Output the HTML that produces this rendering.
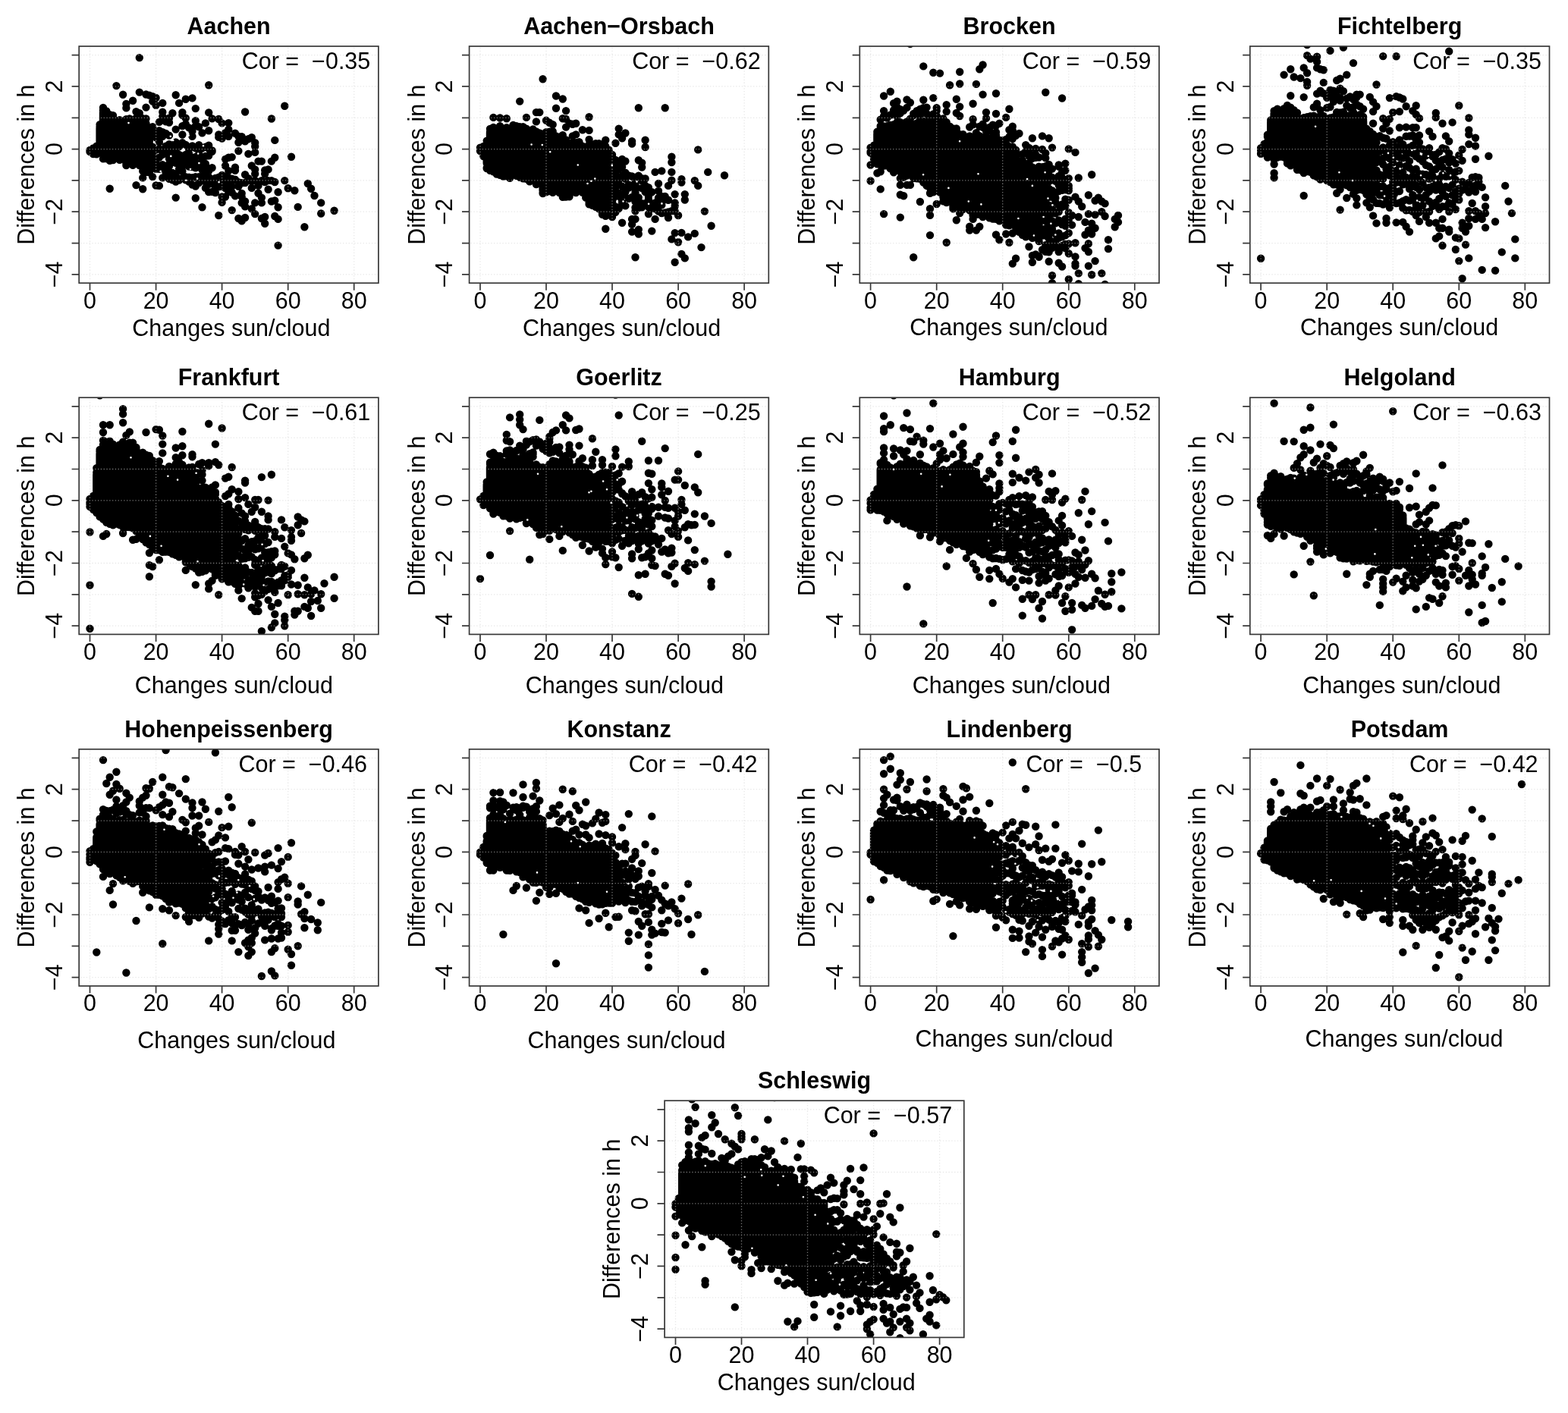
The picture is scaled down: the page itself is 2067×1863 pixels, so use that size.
<!DOCTYPE html>
<html lang="en">
<head>
<meta charset="utf-8">
<title>Differences in h vs. changes sun/cloud</title>
<style>
html,body{margin:0;padding:0;background:#fff;}
body{width:2067px;height:1863px;overflow:hidden;}
svg{display:block;font-family:"Liberation Sans",sans-serif;font-size:30.5px;fill:#000;text-anchor:middle;}
.gr{fill:none;stroke:#d3d3d3;stroke-opacity:.55;stroke-width:1.3;stroke-dasharray:1.3 2.5;}
.ho{fill:none;stroke:#fff;stroke-width:2.6;stroke-linecap:round;}
.bx{fill:none;stroke:#383838;stroke-width:1.7;}
.tk{fill:none;stroke:#383838;stroke-width:1.7;}
.pt{fill:none;stroke:#000;stroke-width:10.4;stroke-linecap:round;stroke-linejoin:round;}
.ti{font-weight:bold;}
.co{text-anchor:end;white-space:pre;}
</style>
</head>
<body>
<svg width="2067" height="1863" viewBox="0 0 2067 1863">
<rect width="2067" height="1863" fill="#fff"/>
<g>
<clipPath id="c_aachen"><rect x="104.2" y="61" width="394.7" height="312.2"/></clipPath>
<path class="pt" clip-path="url(#c_aachen)" d="M118.5 197.9h0M118.5 200h0M122.9 195.4h0M122.9 197.7h0M122.9 199.2h0M122.9 203.1h0M127.3 192.8h0M127.3 196.9h0M127.3 201.7h0M127.3 203.3h0M131.6 164.2h0M131.6 167h0M131.6 168.7V198.2M131.6 201.1V201.2M136 142h0M136 145.2V145.9M136 148.5V204.6M136 209.4h0M140.3 146.4V147.3M140.3 152.2V202.6M140.3 206.4h0M140.3 209h0M144.7 151.3h0M144.7 152.4V202.9M144.7 207.9h0M144.7 211.9h0M144.7 248.7h0M149 152.2h0M149 155h0M149 156.8V202.1M149 210.1V211M153.4 113.1h0M153.4 159.5h0M153.4 161.5h0M153.4 165.8V204.3M153.4 208.1V208.4M157.7 158.1V158.9M157.7 165.8V203.5M157.7 209.2h0M157.7 210.7h0M162.1 124.7h0M162.1 162.1V162.5M162.1 165.5V201.3M162.1 205h0M162.1 207.2h0M162.1 208.8h0M166.4 137h0M166.4 142.4h0M166.4 157.3h0M166.4 158.5h0M166.4 165.4V211.6M166.4 214.8h0M166.4 216.1h0M166.4 218.1h0M170.8 156.4h0M170.8 162.6V202.5M170.8 207.3h0M175.1 132.8h0M175.1 162h0M175.1 163.4V213M175.1 214.5h0M175.1 217.8h0M179.5 147.3h0M179.5 155.6h0M179.5 161.5h0M179.5 163V202.8M179.5 205.8h0M179.5 206.9h0M179.5 208h0M179.5 244.1h0M183.8 76.1h0M183.8 121.6h0M183.8 149.2h0M183.8 158.3h0M183.8 160.4V161.1M183.8 164.6V214.1M183.8 217.2V218.1M188.2 156.3h0M188.2 158.4h0M188.2 161.6h0M188.2 163.1V220.9M188.2 225.5h0M188.2 234.4h0M188.2 249.2h0M192.5 124.5h0M192.5 141.6h0M192.5 156.5V156.6M192.5 162.8V222.4M192.5 226.9h0M196.9 125.6h0M196.9 171.9h0M196.9 178.3h0M196.9 186.1h0M196.9 189.6h0M196.9 197.9h0M196.9 204.8h0M196.9 217.6h0M196.9 227.2h0M201.2 127.3h0M201.2 133.6h0M201.2 167.3h0M201.2 179.5h0M201.2 193.7h0M201.2 205.5h0M201.2 214h0M201.2 219.5h0M201.2 233.1h0M205.6 129h0M205.6 138.7h0M205.6 175.9h0M205.6 181.3h0M205.6 197.6h0M205.6 208.4h0M205.6 214.9h0M205.6 222.8h0M205.6 244.5h0M209.9 160.9h0M209.9 172.1h0M209.9 187.2h0M209.9 196.5h0M209.9 207.6h0M209.9 222.9h0M209.9 244.9h0M214.3 135.9h0M214.3 147.8h0M214.3 153.5h0M214.3 174.3h0M214.3 179.7h0M214.3 199h0M214.3 203.8h0M214.3 217.3h0M214.3 234.4h0M218.6 160.4h0M218.6 175.9h0M218.6 192.7h0M218.6 201.9h0M218.6 221h0M218.6 227.3h0M223 155.8h0M223 161.5h0M223 178.6h0M223 190.2h0M223 196.8h0M223 204.5h0M223 209.3h0M223 216.2h0M223 219h0M223 229.2h0M223 230.4h0M223 235.8h0M227.4 149.2h0M227.4 194.1h0M227.4 201.2h0M227.4 213.8h0M227.4 227.9h0M227.4 237.2h0M231.7 125.3h0M231.7 170.6h0M231.7 187.5h0M231.7 199h0M231.7 208.3h0M231.7 214.8h0M231.7 231h0M231.7 239.5h0M231.7 260.6h0M236.1 135.9h0M236.1 193.4h0M236.1 204h0M236.1 212.5h0M236.1 222.7h0M236.1 237.6h0M240.4 148.1h0M240.4 151.8h0M240.4 166.1h0M240.4 177.5h0M240.4 188.3h0M240.4 205.7h0M240.4 215.9h0M240.4 225.7h0M240.4 234.8h0M244.8 130.8h0M244.8 155.8h0M244.8 163.8h0M244.8 190.9h0M244.8 203.9h0M244.8 208.7h0M244.8 217.4h0M244.8 233.2h0M244.8 237.4h0M249.1 168.4h0M249.1 196.8h0M249.1 202.7h0M249.1 212.6h0M249.1 219.6h0M249.1 233.7h0M249.1 239.6h0M253.5 129.4h0M253.5 172.9h0M253.5 179.7h0M253.5 192.5h0M253.5 208.5h0M253.5 218.2h0M253.5 220.1h0M253.5 234.2h0M253.5 243.6h0M257.8 143.1h0M257.8 159.2h0M257.8 166.1h0M257.8 195.4h0M257.8 206.9h0M257.8 215.1h0M257.8 221.3h0M257.8 233.3h0M257.8 245.6h0M257.8 261.2h0M262.2 167.2h0M262.2 191.1h0M262.2 202.9h0M262.2 216.1h0M262.2 220.1h0M262.2 233.2h0M262.2 241h0M266.5 175.2h0M266.5 195.5h0M266.5 207.8h0M266.5 211.1h0M266.5 224h0M266.5 235.8h0M266.5 273.2h0M270.9 162.4h0M270.9 193.7h0M270.9 205.9h0M270.9 216V216.5M270.9 229.7h0M270.9 239.8h0M270.9 247.9h0M275.2 112.3h0M275.2 148.4h0M275.2 172.3h0M275.2 191.7h0M275.2 196h0M275.2 205.2h0M275.2 225.2h0M275.2 233.4h0M275.2 242.7h0M275.2 253.1h0M279.6 156.4h0M279.6 198.4h0M279.6 199.7h0M279.6 221.2h0M279.6 241.8h0M279.6 252.9h0M283.9 235h0M283.9 248h0M283.9 254.1h0M288.3 157h0M288.3 177.5h0M288.3 180.9h0M288.3 233.6h0M288.3 240h0M288.3 246.2h0M288.3 284h0M292.6 162.4h0M292.6 182.6h0M292.6 231V245.8M292.6 259.5h0M292.6 266.9h0M297 175.2h0M297 209.9h0M297 218.5h0M297 233.3V248.1M297 259.5h0M301.3 162.1h0M301.3 170.6h0M301.3 179.7h0M301.3 207.7h0M301.3 225.3h0M301.3 234.4V252.7M305.7 207.1h0M305.7 235.6h0M305.7 245.8h0M305.7 253.8h0M305.7 277.1h0M310 175.8h0M310 220.8h0M310 224.7h0M310 236.7h0M310 258.4h0M314.4 179.7h0M314.4 187.7h0M314.4 199.1h0M314.4 240.1h0M314.4 245.8h0M314.4 288h0M318.7 180.3h0M318.7 241.3h0M318.7 254.9h0M318.7 259.5h0M318.7 267.5h0M318.7 291.4h0M323.1 147.5V147.6M323.1 186.2h0M323.1 230.2h0M323.1 241h0M323.1 265.5h0M323.1 272.3h0M323.1 287h0M327.4 183.3h0M327.4 202.9h0M327.4 235.1h0M327.4 238.1h0M331.8 181.3h0M331.8 218.5h0M331.8 239h0M331.8 247.9h0M331.8 275.2h0M336.2 188.2h0M336.2 193.1h0M336.2 200.9h0M336.2 223.4h0M336.2 229.3h0M336.2 238.1h0M336.2 267.4h0M336.2 282.1h0M340.5 212.6h0M340.5 240h0M340.5 244.9h0M340.5 254.7h0M344.9 212.6h0M344.9 238.1h0M344.9 260.6h0M344.9 267.4h0M344.9 288h0M349.2 224.4h0M349.2 229.3h0M349.2 240h0M349.2 286h0M349.2 294.8h0M353.6 223.4h0M353.6 238.1h0M353.6 249.8h0M357.9 156.5h0M357.9 212.6h0M357.9 238.1h0M357.9 265.5h0M362.3 184.9h0M362.3 207.7h0M362.3 240h0M362.3 264.5h0M362.3 285h0M366.6 253.3h0M366.6 273.3h0M366.6 288.9h0M366.6 323.6h0M375.3 139.8h0M375.3 238.1h0M379.7 248.2h0M384 206.8h0M388.4 251.2h0M392.7 272.9h0M401.4 299.3h0M405.8 242h0M410.1 248.8h0M414.5 258h0M423.2 267.4h0M423.2 281.5h0M440.6 277.8h0"/>
<path class="ho" d="M225.3 205.9h0M268 192.3h0M261.2 202.5h0M262.4 215.1h0M251 223h0M260.1 235.6h0M245.3 237.8h0M288.6 240.1h0M169.5 162.1h0M211.7 225.9h0M224.8 179.7h0M228.2 184.9h0M248.7 178.6h0M260.1 174h0"/>
<path class="gr" d="M118.5 63V372.2M205.6 63V372.2M292.6 63V372.2M379.7 63V372.2M466.7 63V372.2M106.2 361.9H497.9M106.2 320.6H497.9M106.2 279.2H497.9M106.2 237.9H497.9M106.2 196.6H497.9M106.2 155.3H497.9M106.2 113.9H497.9M106.2 72.6H497.9"/>
<rect class="bx" x="104.2" y="61" width="394.7" height="312.2"/>
<path class="tk" d="M118.5 373.2v9.6M205.6 373.2v9.6M292.6 373.2v9.6M379.7 373.2v9.6M466.7 373.2v9.6M104.2 361.9h-9.6M104.2 320.6h-9.6M104.2 279.2h-9.6M104.2 237.9h-9.6M104.2 196.6h-9.6M104.2 155.3h-9.6M104.2 113.9h-9.6M104.2 72.6h-9.6"/>
<text x="118.5" y="406.6">0</text>
<text x="205.6" y="406.6">20</text>
<text x="292.6" y="406.6">40</text>
<text x="379.7" y="406.6">60</text>
<text x="466.7" y="406.6">80</text>
<text transform="translate(81.9 361.9) rotate(-90)">−4</text>
<text transform="translate(81.9 279.2) rotate(-90)">−2</text>
<text transform="translate(81.9 196.6) rotate(-90)">0</text>
<text transform="translate(81.9 113.9) rotate(-90)">2</text>
<text x="304.9" y="442.6">Changes sun/cloud</text>
<text transform="translate(45.2 217.1) rotate(-90)">Differences in h</text>
<text class="ti" x="301.6" y="44.7">Aachen</text>
<text class="co" x="488.3" y="90.8" xml:space="preserve">Cor =  −0.35</text>
</g>
<g>
<clipPath id="c_orsbach"><rect x="618.6" y="61" width="394.7" height="312.2"/></clipPath>
<path class="pt" clip-path="url(#c_orsbach)" d="M633 194.8h0M633 199h0M637.3 193h0M637.3 195.9h0M637.3 198.5V200M637.3 204.6h0M637.3 206.1h0M641.7 185.8h0M641.7 192.6V215.3M641.7 221.2V222.1M646 169.9V170.1M646 174h0M646 175V218M646 224.5V224.8M650.4 154.9h0M650.4 168h0M650.4 169.5h0M650.4 174.4V220.8M650.4 223.5V223.6M650.4 226.3h0M654.7 169.9h0M654.7 171.4V171.6M654.7 172.6V222.5M654.7 229.6h0M659.1 155.5h0M659.1 166.2h0M659.1 168.2h0M659.1 173.2V223.6M659.1 230.4V230.8M663.4 173.1h0M663.4 175.5h0M663.4 177V223.5M663.4 228.7h0M663.4 230.5h0M663.4 232.6h0M667.8 156.3h0M667.8 168.1h0M667.8 172.3h0M667.8 174.6V226.9M667.8 232.2h0M672.1 169.8h0M672.1 173V227.3M672.1 232.8h0M672.1 234.8h0M676.5 164.9h0M676.5 166.4h0M676.5 171.5V228.3M676.5 229.4V229.9M680.8 166.3h0M680.8 171.1V172.1M680.8 173.7V227.5M680.8 229.9h0M680.8 231V231.8M685.2 133.6h0M685.2 167.3h0M685.2 169.6h0M685.2 172.2V226.3M685.2 231.2h0M685.2 233.7h0M689.5 167.3V167.7M689.5 172.7V228.3M689.5 230.2h0M689.5 234.3h0M689.5 235.4h0M693.9 154.9h0M693.9 169.8h0M693.9 172h0M693.9 174V231.9M693.9 235.9h0M698.2 172.8V173.6M698.2 175.4V229.8M698.2 234.9h0M698.2 239.4h0M702.6 170.5h0M702.6 173.9h0M702.6 175.2V231.6M702.6 233.8h0M702.6 235.4h0M706.9 148.1h0M706.9 160.4h0M706.9 173.4h0M706.9 175.4h0M706.9 176.9V234.9M706.9 236.8h0M706.9 242.1V243.1M711.3 148.1h0M711.3 175.4h0M711.3 177.5h0M711.3 180.7V236.4M711.3 241V241.8M715.6 104.2h0M715.6 176.6V176.8M715.6 181.5V251.2M715.6 253.9V255M720 158.8h0M720 174.1V175M720 178h0M720 179.4V249.3M720 251.7h0M720 253.2h0M724.3 161.8h0M724.3 173.8h0M724.3 176.3h0M724.3 180.8V248.1M724.3 252.1h0M728.7 164.3h0M728.7 173.2h0M728.7 174.8V175.1M728.7 179.7V245.9M728.7 248.7h0M728.7 253.3V253.7M733 126.5h0M733 142.8h0M733 179.4h0M733 181.5V244.4M733 247.8h0M733 250.5h0M737.4 180.8V180.9M737.4 184.4V248.6M737.4 250h0M737.4 253.5V254M741.8 130.5h0M741.8 156.3h0M741.8 178.2h0M741.8 181.6h0M741.8 183.9V251.5M741.8 257.3h0M741.8 259.8h0M746.1 146.1h0M746.1 156.9h0M746.1 167.6h0M746.1 184.5h0M746.1 190.2V253.9M746.1 257.9h0M746.1 259.6h0M750.5 162.7h0M750.5 191.5h0M750.5 194h0M750.5 195.5V251.1M750.5 258.4V259.2M754.8 163.7h0M754.8 179.4h0M754.8 187.8h0M754.8 193h0M754.8 194.8V250.6M754.8 252.9h0M759.2 162.7h0M759.2 177.4h0M759.2 188.1V189.1M759.2 193.9V246.3M759.2 251.3h0M759.2 252.8h0M759.2 254.1h0M763.5 187.2V187.4M763.5 195.8V244M763.5 246.5h0M763.5 249h0M767.9 171.2h0M767.9 192.6h0M767.9 196.4h0M767.9 197.8V248.7M767.9 250.9h0M767.9 253.9h0M772.2 194.8h0M772.2 197.4h0M772.2 198.9V254.3M772.2 257.1h0M772.2 260.5V260.6M776.6 154.3h0M776.6 171.9h0M776.6 183.9h0M776.6 190.5h0M776.6 191.8V192.3M776.6 198.5V260.4M776.6 267h0M776.6 269.3h0M780.9 196.4h0M780.9 197.4V265.7M780.9 267.4h0M780.9 270.9h0M785.3 189.1h0M785.3 194.4h0M785.3 197.7V266.7M785.3 271.2h0M785.3 272.9h0M789.6 189.3h0M789.6 195.5V272.4M789.6 274.8V275.2M794 190.5h0M794 196.2h0M794 198.2h0M794 199.4V275.5M794 280.8h0M794 282.8h0M798.3 184.7h0M798.3 193h0M798.3 195.1h0M798.3 198.7h0M798.3 201.5V280.1M798.3 281.4h0M798.3 284.9h0M798.3 301.7h0M802.7 197.7h0M802.7 204.2h0M802.7 205.9V278.4M802.7 279.4h0M802.7 281.7h0M807 203.9h0M807 205.8h0M807 207.7h0M807 209.7V278.3M807 282.7h0M807 286.1h0M811.4 188.8h0M811.4 210.9h0M811.4 225.4h0M811.4 230.5h0M811.4 235.7h0M811.4 246.9h0M811.4 253.6h0M811.4 259.5h0M811.4 272.5h0M811.4 279.8h0M815.7 169.6h0M815.7 177.4h0M815.7 215.7h0M815.7 222.7h0M815.7 237h0M815.7 242.4h0M815.7 254.9h0M815.7 260.6h0M815.7 275.1h0M820.1 182.3h0M820.1 209.9h0M820.1 220h0M820.1 231.6h0M820.1 245.7h0M820.1 258h0M820.1 267.3h0M820.1 293.8h0M824.4 175.5h0M824.4 212.5h0M824.4 227.8h0M824.4 235.7h0M824.4 250.4h0M824.4 253h0M824.4 271.4h0M828.8 231.4h0M828.8 243.5h0M828.8 247.6h0M828.8 261.9h0M833.1 186.2h0M833.1 189.5h0M833.1 232.5h0M833.1 245.6h0M833.1 260h0M833.1 288.9h0M833.1 295.8h0M833.1 305.6h0M837.5 233.9h0M837.5 236.9h0M837.5 241.3h0M837.5 243.2h0M837.5 250.2h0M837.5 253.7h0M837.5 265.9h0M837.5 273.8h0M837.5 278.2h0M837.5 288.9h0M837.5 339.2h0M841.8 142.2h0M841.8 211.3h0M841.8 231.8h0M841.8 260.5h0M841.8 273.8h0M841.8 302.6h0M841.8 308.5h0M846.2 214.6h0M846.2 220.5h0M846.2 235.1h0M846.2 238.2h0M846.2 248h0M846.2 268.3h0M846.2 273.3h0M850.6 184.7h0M850.6 194h0M850.6 235.5h0M850.6 244.7h0M850.6 253.1h0M850.6 268.2h0M854.9 247.3h0M854.9 258.7h0M854.9 263h0M854.9 272.8h0M854.9 282.1h0M859.3 253.3h0M859.3 268.6h0M859.3 274.8h0M859.3 304.6h0M863.6 226.9h0M863.6 267.4h0M863.6 275.4h0M863.6 288.9h0M868 242h0M868 251.8h0M868 260.9h0M868 266.5h0M868 278.5h0M872.3 225.4h0M872.3 259h0M872.3 270.4h0M872.3 281.1h0M876.7 142.2h0M876.7 259h0M876.7 263h0M876.7 280.4h0M881 244.9h0M881 263.8h0M881 279.5h0M881 287h0M885.4 206.8h0M885.4 214h0M885.4 226.9h0M885.4 237.7h0M885.4 278.1h0M885.4 315.4h0M889.7 256.1h0M889.7 267.4h0M889.7 271.8h0M889.7 278.2h0M889.7 307.1h0M889.7 345.7h0M894.1 284h0M894.1 319.3h0M898.4 236.1h0M898.4 240.6h0M898.4 306.9h0M898.4 334.9h0M902.8 256.1h0M902.8 263.5h0M902.8 340.4h0M907.1 312.4h0M915.8 238.1h0M915.8 307.9h0M920.2 197.4h0M920.2 244.9h0M924.5 326.1h0M928.9 278.6h0M933.2 226.9h0M937.6 297.7h0M955 231.2h0"/>
<path class="ho" d="M774.5 242h0M779.4 238.7h0M784.3 235.5h0M813.7 264.9h0M821.5 265.5h0M839.5 239.4h0M761.8 217.5h0M725.2 200.3h0M806.8 217.9h0M700.6 190.5h0M714.8 191.1h0M855.1 268.8h0M872.4 268.4h0"/>
<path class="gr" d="M633 63V372.2M720 63V372.2M807 63V372.2M894.1 63V372.2M981.1 63V372.2M620.6 361.9H1012.3M620.6 320.6H1012.3M620.6 279.2H1012.3M620.6 237.9H1012.3M620.6 196.6H1012.3M620.6 155.3H1012.3M620.6 113.9H1012.3M620.6 72.6H1012.3"/>
<rect class="bx" x="618.6" y="61" width="394.7" height="312.2"/>
<path class="tk" d="M633 373.2v9.6M720 373.2v9.6M807 373.2v9.6M894.1 373.2v9.6M981.1 373.2v9.6M618.6 361.9h-9.6M618.6 320.6h-9.6M618.6 279.2h-9.6M618.6 237.9h-9.6M618.6 196.6h-9.6M618.6 155.3h-9.6M618.6 113.9h-9.6M618.6 72.6h-9.6"/>
<text x="633" y="406.6">0</text>
<text x="720" y="406.6">20</text>
<text x="807" y="406.6">40</text>
<text x="894.1" y="406.6">60</text>
<text x="981.1" y="406.6">80</text>
<text transform="translate(596.3 361.9) rotate(-90)">−4</text>
<text transform="translate(596.3 279.2) rotate(-90)">−2</text>
<text transform="translate(596.3 196.6) rotate(-90)">0</text>
<text transform="translate(596.3 113.9) rotate(-90)">2</text>
<text x="819.6" y="442.6">Changes sun/cloud</text>
<text transform="translate(559.6 217.1) rotate(-90)">Differences in h</text>
<text class="ti" x="816" y="44.7">Aachen−Orsbach</text>
<text class="co" x="1002.7" y="90.8" xml:space="preserve">Cor =  −0.62</text>
</g>
<g>
<clipPath id="c_brocken"><rect x="1133.3" y="61" width="394.7" height="312.2"/></clipPath>
<path class="pt" clip-path="url(#c_brocken)" d="M1147.6 194.8h0M1147.6 199.9h0M1147.6 201.4V201.6M1147.6 217.5h0M1147.6 238.5h0M1152 191.6h0M1152 193.3h0M1152 197.9V207.8M1152 209.8h0M1152 213h0M1156.4 173.6h0M1156.4 174.8h0M1156.4 176.4V210.4M1156.4 216.3h0M1156.4 228.3h0M1160.7 157.8h0M1160.7 166.3h0M1160.7 169.5h0M1160.7 173h0M1160.7 176.2V210.5M1160.7 213.6h0M1160.7 217.5h0M1160.7 226.3h0M1160.7 249.4h0M1165.1 126.5h0M1165.1 146.1h0M1165.1 153h0M1165.1 154.6h0M1165.1 166.4h0M1165.1 169.1h0M1165.1 173.2V210.1M1165.1 211.8h0M1165.1 217.9V218.6M1165.1 282.1h0M1169.4 155.6h0M1169.4 166.1h0M1169.4 169.1h0M1169.4 171.8V211.3M1169.4 218.3h0M1173.8 120.7h0M1173.8 151.5h0M1173.8 164.9V165.4M1173.8 170.9V211.7M1173.8 219.1h0M1173.8 222.4h0M1178.1 136.3h0M1178.1 145.3h0M1178.1 151.1h0M1178.1 164.1h0M1178.1 168.8V211.6M1178.1 215.9h0M1178.1 220V220.3M1178.1 227.3h0M1182.5 133.8h0M1182.5 141.2h0M1182.5 144.9h0M1182.5 153h0M1182.5 161.3h0M1182.5 163.2h0M1182.5 164.4h0M1182.5 170.9V212.3M1182.5 214.5h0M1182.5 219.3h0M1186.8 144.2h0M1186.8 149.2h0M1186.8 161.1h0M1186.8 162.7h0M1186.8 167.9h0M1186.8 169.5V219M1186.8 221.5h0M1186.8 224.5h0M1186.8 226.6h0M1186.8 235.1h0M1186.8 243.9h0M1186.8 256.7h0M1186.8 286.6h0M1191.2 145.8h0M1191.2 162.4h0M1191.2 165.5h0M1191.2 167.7V225.6M1191.2 226.8V227.4M1191.2 233.9h0M1191.2 258.2h0M1195.5 131.4h0M1195.5 141.9h0M1195.5 160.5h0M1195.5 162.3h0M1195.5 166.3V226.1M1195.5 229.1h0M1195.5 231.6h0M1195.5 243.9h0M1199.9 57.9h0M1199.9 135.3h0M1199.9 156.7h0M1199.9 163h0M1199.9 165.4V165.8M1199.9 169.6V229M1199.9 230.5h0M1199.9 243.9h0M1204.2 150h0M1204.2 152.1h0M1204.2 164.2h0M1204.2 166.1h0M1204.2 167.1h0M1204.2 168.7V227.4M1204.2 228.9h0M1204.2 235h0M1204.2 339.2h0M1208.6 146.1h0M1208.6 150.4h0M1208.6 162.5h0M1208.6 163.7h0M1208.6 165.3h0M1208.6 169.9V229.6M1208.6 233.6V234.1M1208.6 235.3h0M1212.9 143.9h0M1212.9 157.2h0M1212.9 160.7h0M1212.9 164h0M1212.9 167.2V230.4M1212.9 231.8h0M1212.9 234.1h0M1212.9 235.7h0M1212.9 266h0M1217.3 87.4h0M1217.3 131.8h0M1217.3 142.2h0M1217.3 149h0M1217.3 161h0M1217.3 164.8h0M1217.3 166.8h0M1217.3 168V232M1217.3 234.2V234.7M1217.3 240.6h0M1221.6 141.6h0M1221.6 149.9h0M1221.6 159h0M1221.6 163.9h0M1221.6 165.3V238.5M1221.6 239.8h0M1221.6 243.7h0M1221.6 244.9h0M1226 154.5h0M1226 159h0M1226 164.5V240.5M1226 242.4h0M1226 248.1h0M1226 254.7h0M1226 275.2h0M1226 283.7h0M1226 310.1h0M1230.3 95.8h0M1230.3 129.1h0M1230.3 150.5h0M1230.3 159.7h0M1230.3 161.2h0M1230.3 164.5V243.7M1230.3 248.5h0M1230.3 253.2h0M1234.7 142.2h0M1234.7 146.1h0M1234.7 152.6h0M1234.7 156.1h0M1234.7 160.5h0M1234.7 161.8h0M1234.7 163.9V244.5M1234.7 250.4V251.2M1234.7 269h0M1239 96.6h0M1239 157h0M1239 158.2h0M1239 162.9V245.1M1239 249.1h0M1239 251.2h0M1239 253.6h0M1243.4 156.4h0M1243.4 158.3h0M1243.4 160.8h0M1243.4 165.6V257M1243.4 259.9h0M1243.4 265.4h0M1247.7 138.3h0M1247.7 147.1h0M1247.7 161.1h0M1247.7 163.6V259.2M1247.7 261.8h0M1247.7 264.7h0M1247.7 267.1h0M1247.7 319.7h0M1252.1 112.3h0M1252.1 166.8h0M1252.1 168V263.2M1256.4 169.5h0M1256.4 172.9V173.1M1256.4 174.8V265.3M1256.4 271h0M1256.4 272.8h0M1256.4 275.2h0M1260.8 130.8h0M1260.8 149h0M1260.8 169.5h0M1260.8 170.9h0M1260.8 173.8h0M1260.8 178V265.9M1260.8 270.3h0M1260.8 271.3h0M1260.8 290.3h0M1265.2 94.8h0M1265.2 110.5h0M1265.2 140.6h0M1265.2 153h0M1265.2 177.2h0M1265.2 179.2h0M1265.2 182.3V269.8M1265.2 271.7h0M1265.2 274.2h0M1265.2 281.1h0M1269.5 177.2V177.6M1269.5 180.2h0M1269.5 183.8V269.9M1269.5 273.7h0M1269.5 276.1h0M1273.9 182.5h0M1273.9 184.1V272.5M1278.2 167.5h0M1278.2 179.4V179.7M1278.2 184.3h0M1278.2 186.9V273.9M1278.2 276.4V277.4M1278.2 298.7h0M1278.2 303.6h0M1282.6 136.7h0M1282.6 157.3h0M1282.6 164.4h0M1282.6 181.4h0M1282.6 182.7V182.9M1282.6 186.3V274.3M1282.6 279.7h0M1282.6 283h0M1282.6 284h0M1282.6 288.9h0M1286.9 110.9h0M1286.9 175.1h0M1286.9 181.5h0M1286.9 183.4h0M1286.9 188.1V276.3M1286.9 282.6V282.9M1286.9 303.6h0M1291.3 91.3h0M1291.3 166.7h0M1291.3 179.2h0M1291.3 183.7h0M1291.3 186.6h0M1291.3 189.4V277M1291.3 281.3h0M1291.3 282.8h0M1291.3 298.7h0M1295.6 85.5h0M1295.6 124.6h0M1295.6 163.7h0M1295.6 167.9h0M1295.6 181.5h0M1295.6 186.8h0M1295.6 189.3V279.1M1295.6 280.5h0M1295.6 284.8h0M1295.6 286.1h0M1300 148.1h0M1300 155.9h0M1300 173.1h0M1300 180.6h0M1300 185.9h0M1300 187.3h0M1300 191.7V280.9M1300 282.5h0M1304.3 167.9h0M1304.3 172.1h0M1304.3 186h0M1304.3 190.4h0M1304.3 191.7V281.6M1304.3 286.1h0M1304.3 287.2h0M1308.7 164.7h0M1308.7 180h0M1308.7 187.2h0M1308.7 188.9h0M1308.7 191.8V280.7M1308.7 286h0M1308.7 288.5h0M1313 123.2h0M1313 150h0M1313 165.7h0M1313 174.3h0M1313 178.3h0M1313 185.7h0M1313 187.2h0M1313 192.7V283.5M1313 285.3h0M1313 288.5V288.8M1313 309.5h0M1317.4 162.7h0M1317.4 184.6h0M1317.4 186.5h0M1317.4 192.6V285.1M1317.4 287.3h0M1317.4 291V291.3M1317.4 316.3h0M1321.7 185.2h0M1321.7 188.4h0M1321.7 191.6V288.7M1321.7 289.8V290.3M1326.1 154.9h0M1326.1 183.9h0M1326.1 188.6h0M1326.1 190.7h0M1326.1 192.1h0M1326.1 196.5V289.9M1326.1 293.2h0M1326.1 295h0M1326.1 296.5h0M1326.1 308.5h0M1330.4 143.8h0M1330.4 171.3h0M1330.4 180.4h0M1330.4 193.1h0M1330.4 196V291.3M1330.4 295.7h0M1330.4 297.2h0M1330.4 319.7h0M1334.8 166.7h0M1334.8 171.9h0M1334.8 176.4h0M1334.8 183.1h0M1334.8 193.4h0M1334.8 195.6h0M1334.8 201.2V295.6M1334.8 307.5h0M1334.8 347.6h0M1339.1 178.7h0M1339.1 197.7V198.2M1339.1 203.9V295.9M1339.1 298.9h0M1339.1 300h0M1339.1 340.8h0M1343.5 176h0M1343.5 213.3h0M1343.5 214.5h0M1343.5 217.8V298.3M1343.5 302.2h0M1343.5 305.7h0M1347.8 203.2h0M1347.8 211.5h0M1347.8 213.9h0M1347.8 220.2V303.1M1347.8 306.2h0M1347.8 309.7h0M1352.2 191.1h0M1352.2 199.4h0M1352.2 215.9h0M1352.2 220.5h0M1352.2 224V303.8M1352.2 306.1h0M1352.2 310.6h0M1352.2 312.3h0M1356.5 195h0M1356.5 201.3h0M1356.5 205.8h0M1356.5 214.9h0M1356.5 217.9V218.4M1356.5 224.2V306M1356.5 307.1h0M1356.5 308.9h0M1356.5 311.1h0M1356.5 325.2h0M1360.9 182.3h0M1360.9 208.8h0M1360.9 220.4h0M1360.9 223.6V306.5M1360.9 312.9h0M1360.9 313.9h0M1360.9 336.9h0M1360.9 345.7h0M1365.2 196h0M1365.2 203.8h0M1365.2 207.7h0M1365.2 222.6V305.2M1365.2 309.8V310.8M1365.2 313.1h0M1365.2 335.4h0M1369.6 207.5h0M1369.6 219.7h0M1369.6 223.1h0M1369.6 226.4V297.3M1369.6 301.4h0M1369.6 305h0M1369.6 314h0M1369.6 318.1h0M1369.6 338V338.8M1374 179.4h0M1374 197h0M1374 220.2h0M1374 221.3V222.1M1374 229.8V289.5M1374 309.7V310.6M1374 329.1h0M1378.3 121.7h0M1378.3 201.9h0M1378.3 208.4h0M1378.3 219.2h0M1378.3 222.5h0M1378.3 224.5h0M1378.3 229V285.8M1378.3 288.4h0M1378.3 291.3h0M1378.3 301.5h0M1378.3 310.6h0M1378.3 323.2h0M1378.3 331.8h0M1382.7 182.3h0M1382.7 216.9h0M1382.7 225.9h0M1382.7 239.2h0M1382.7 248.7h0M1382.7 250h0M1382.7 259.8h0M1382.7 270.6h0M1382.7 277.6h0M1382.7 283h0M1382.7 295.3h0M1382.7 308.7h0M1382.7 314.6h0M1382.7 332.2h0M1382.7 344.7h0M1387 194.6h0M1387 222.6h0M1387 234h0M1387 237.3h0M1387 251.2h0M1387 259.7h0M1387 275.9h0M1387 281.3h0M1387 291.4h0M1387 302h0M1387 318.9h0M1387 326.9h0M1387 363.3h0M1387 373.1h0M1391.4 235.4h0M1391.4 238.9h0M1391.4 254.9h0M1391.4 261h0M1391.4 266.6h0M1391.4 281.4h0M1391.4 294.2h0M1391.4 308.5h0M1391.4 317.7h0M1391.4 325.1h0M1395.7 217.4h0M1395.7 219.5h0M1395.7 232.3h0M1395.7 244.1h0M1395.7 252h0M1395.7 270.6h0M1395.7 279.3h0M1395.7 290.5h0M1395.7 307.4h0M1395.7 313.8h0M1395.7 332.1h0M1395.7 346.7h0M1400.1 129.5h0M1400.1 226.9h0M1400.1 234.5h0M1400.1 242h0M1400.1 250.9h0M1400.1 269.5h0M1400.1 272.7h0M1400.1 295.1h0M1400.1 296.1h0M1400.1 312.2h0M1400.1 324h0M1400.1 351.5h0M1404.4 215.6h0M1404.4 224.7h0M1404.4 238h0M1404.4 250.3h0M1404.4 262.6h0M1404.4 271.5h0M1404.4 288.8h0M1404.4 297.7h0M1404.4 310.4h0M1404.4 322h0M1404.4 327.4h0M1408.8 196.4h0M1408.8 235.1h0M1408.8 244.9h0M1408.8 248.3h0M1408.8 251.2h0M1408.8 263.7h0M1408.8 280.2h0M1408.8 289.8h0M1408.8 307.3h0M1408.8 321.5h0M1408.8 334.3h0M1408.8 368.2h0M1413.1 284h0M1413.1 296.6h0M1417.5 200.9h0M1417.5 259.6h0M1417.5 320.2h0M1417.5 338.4h0M1417.5 347.6h0M1417.5 350.6h0M1421.8 234.5h0M1421.8 265.5h0M1421.8 286h0M1421.8 360.4h0M1421.8 374.1h0M1426.2 272.3h0M1430.5 292.9h0M1430.5 309.5h0M1430.5 327.1h0M1434.9 257.2h0M1434.9 282.1h0M1434.9 303.6h0M1434.9 321.2h0M1434.9 332h0M1434.9 350.6h0M1439.2 230.2h0M1439.2 294.8h0M1439.2 308.5h0M1439.2 362.3h0M1443.6 264.5h0M1443.6 283.1h0M1443.6 300.7h0M1443.6 344.1h0M1447.9 260.6h0M1452.3 265.5h0M1452.3 279.2h0M1452.3 360.4h0M1456.6 268.4h0M1456.6 285h0M1456.6 375h0M1461 316.3h0M1461 328.1h0M1469.7 288.9h0M1469.7 299.3h0M1474 284h0M1474 292.9h0"/>
<path class="ho" d="M1342.4 288h0M1375.6 286h0M1385.4 294.8h0M1391.3 309.5h0M1362.9 310.5h0M1250.4 247.9h0M1276.8 265.5h0M1293.4 269.4h0M1289.5 229.3h0M1265.1 186.2h0M1217.1 230.2h0M1360.9 244.9h0M1354.1 236.1h0M1381.5 261.5h0M1387.4 270.4h0M1377.6 227.3h0"/>
<path class="gr" d="M1147.6 63V372.2M1234.7 63V372.2M1321.7 63V372.2M1408.8 63V372.2M1495.8 63V372.2M1135.3 361.9H1527M1135.3 320.6H1527M1135.3 279.2H1527M1135.3 237.9H1527M1135.3 196.6H1527M1135.3 155.3H1527M1135.3 113.9H1527M1135.3 72.6H1527"/>
<rect class="bx" x="1133.3" y="61" width="394.7" height="312.2"/>
<path class="tk" d="M1147.6 373.2v9.6M1234.7 373.2v9.6M1321.7 373.2v9.6M1408.8 373.2v9.6M1495.8 373.2v9.6M1133.3 361.9h-9.6M1133.3 320.6h-9.6M1133.3 279.2h-9.6M1133.3 237.9h-9.6M1133.3 196.6h-9.6M1133.3 155.3h-9.6M1133.3 113.9h-9.6M1133.3 72.6h-9.6"/>
<text x="1147.6" y="406.6">0</text>
<text x="1234.7" y="406.6">20</text>
<text x="1321.7" y="406.6">40</text>
<text x="1408.8" y="406.6">60</text>
<text x="1495.8" y="406.6">80</text>
<text transform="translate(1111 361.9) rotate(-90)">−4</text>
<text transform="translate(1111 279.2) rotate(-90)">−2</text>
<text transform="translate(1111 196.6) rotate(-90)">0</text>
<text transform="translate(1111 113.9) rotate(-90)">2</text>
<text x="1329.8" y="442.2">Changes sun/cloud</text>
<text transform="translate(1074.3 217.1) rotate(-90)">Differences in h</text>
<text class="ti" x="1330.6" y="44.7">Brocken</text>
<text class="co" x="1517.4" y="90.8" xml:space="preserve">Cor =  −0.59</text>
</g>
<g>
<clipPath id="c_fichtel"><rect x="1647.8" y="61" width="394.7" height="312.2"/></clipPath>
<path class="pt" clip-path="url(#c_fichtel)" d="M1662.1 195.3h0M1662.1 197.9h0M1662.1 202.1V202.9M1662.1 340.8h0M1666.5 190V190.4M1666.5 197.4h0M1666.5 198.8h0M1666.5 199.9h0M1666.5 201.5h0M1670.9 177.8h0M1670.9 180.2h0M1670.9 186.7V198.6M1670.9 203.5V204.2M1670.9 207.5h0M1675.2 158.5h0M1675.2 160.8V201.6M1675.2 206h0M1679.6 146.3h0M1679.6 149.6V202.8M1679.6 208.7h0M1679.6 210.2h0M1679.6 216.5h0M1679.6 228.3h0M1679.6 234.2h0M1683.9 143.8h0M1683.9 145.1h0M1683.9 153.3V204M1683.9 207.4V207.6M1688.3 149.3h0M1688.3 152.7V204.2M1688.3 206.1V206.6M1692.6 98.6h0M1692.6 143.1h0M1692.6 145.5h0M1692.6 149.1V206.1M1692.6 207.4h0M1697 139h0M1697 140.2h0M1697 143.3h0M1697 145.2V209M1697 212.8h0M1697 215.4h0M1701.3 91.3h0M1701.3 126.2h0M1701.3 141.8h0M1701.3 143.8h0M1701.3 146.8V213.1M1701.3 215.5h0M1701.3 218.4h0M1705.7 101.5h0M1705.7 145.1h0M1705.7 149.3h0M1705.7 150.9V214.9M1705.7 216.7V217M1710 148.8h0M1710 153.8h0M1710 155V218.9M1710 220.1h0M1710 223.7h0M1714.4 103.1h0M1714.4 156.5h0M1714.4 159h0M1714.4 160.5V223M1714.4 224.1h0M1718.7 89.4h0M1718.7 128.1h0M1718.7 155.1V155.2M1718.7 160.8V219.6M1718.7 226.3h0M1718.7 228h0M1718.7 258h0M1723.1 59h0M1723.1 73.1h0M1723.1 96.2h0M1723.1 108h0M1723.1 112.8h0M1723.1 154.3h0M1723.1 158.2h0M1723.1 161.8V219.3M1723.1 220.6h0M1723.1 226h0M1727.4 77.6h0M1727.4 153.1h0M1727.4 155.4V155.8M1727.4 158.4h0M1727.4 162.6V219.8M1727.4 223.9h0M1727.4 226.5V226.7M1731.8 141.4h0M1731.8 152.8h0M1731.8 159.8V225.5M1731.8 228.2h0M1731.8 231V231.4M1736.1 74.7h0M1736.1 81.5h0M1736.1 89.4h0M1736.1 123.6h0M1736.1 136.7h0M1736.1 140.4h0M1736.1 155.6h0M1736.1 159.8V225M1736.1 227.8h0M1736.1 233.2h0M1740.5 91.3h0M1740.5 119.7h0M1740.5 122.4h0M1740.5 145.2h0M1740.5 152.5h0M1740.5 160.4V228.9M1740.5 230.1V230.6M1740.5 236.5h0M1744.8 92.3h0M1744.8 108.9h0M1744.8 123.2h0M1744.8 153V153.2M1744.8 155.6h0M1744.8 158h0M1744.8 162.3V230.3M1744.8 234.3h0M1749.2 128.9h0M1749.2 142.3h0M1749.2 158.1h0M1749.2 159.5h0M1749.2 161.7V230.5M1749.2 236.4h0M1749.2 238h0M1753.5 66.9h0M1753.5 118.7h0M1753.5 127.1h0M1753.5 141h0M1753.5 155.5h0M1753.5 162.3h0M1753.5 163.4h0M1753.5 165.3V232.6M1753.5 236.4V236.8M1753.5 240h0M1757.9 119.7h0M1757.9 128.3h0M1757.9 134h0M1757.9 154.4h0M1757.9 165.5V165.6M1757.9 169.1V235.7M1757.9 240.5h0M1757.9 243.2h0M1762.2 106h0M1762.2 121.2h0M1762.2 148h0M1762.2 161.3h0M1762.2 163.1h0M1762.2 165.7V236.5M1762.2 243.2h0M1762.2 254.7h0M1766.6 103.7h0M1766.6 116.8h0M1766.6 129.3h0M1766.6 132.5h0M1766.6 148.4h0M1766.6 156.8h0M1766.6 157.8V157.9M1766.6 164.3V234.4M1766.6 240.7V241.5M1766.6 249.8h0M1766.6 276.6h0M1770.9 62.6h0M1770.9 120.3h0M1770.9 147.7h0M1770.9 154.4V154.5M1770.9 159.5h0M1770.9 160.6V235.8M1770.9 238.5h0M1770.9 240.3h0M1770.9 242.3h0M1775.3 98.6h0M1775.3 129.9h0M1775.3 139.1h0M1775.3 153.9h0M1775.3 155.1h0M1775.3 160.1V237.2M1775.3 240.7h0M1775.3 242.6h0M1775.3 244.3h0M1775.3 261h0M1779.7 127.5h0M1779.7 142h0M1779.7 151.7V152.3M1779.7 157.9V240.5M1779.7 242.6h0M1779.7 245.8h0M1779.7 247.1h0M1784 83.1h0M1784 131h0M1784 141.1h0M1784 147.9h0M1784 155.8h0M1784 157.2V241.8M1784 242.8h0M1784 245.2h0M1784 255.7h0M1788.4 124.6h0M1788.4 128.3h0M1788.4 137.6h0M1788.4 154.8h0M1788.4 155.8h0M1788.4 158.8V242.5M1788.4 247.1h0M1788.4 250.7h0M1788.4 261.5h0M1788.4 270.4h0M1792.7 124.6h0M1792.7 140.2h0M1792.7 151.1h0M1792.7 157.5h0M1792.7 158.6V244.3M1792.7 247.6h0M1792.7 248.7h0M1792.7 249.7h0M1797.1 143.7h0M1797.1 153.9h0M1797.1 155.3h0M1797.1 158h0M1797.1 159.8V247.1M1797.1 248.3h0M1797.1 250.3V250.9M1801.4 169.8h0M1801.4 171.5h0M1801.4 177.8V249.4M1801.4 255.5V256.3M1801.4 267.4h0M1805.8 127.9h0M1805.8 173.2h0M1805.8 177.8V178.7M1805.8 179.9V253M1805.8 258h0M1805.8 261.2V262.1M1805.8 273.3h0M1810.1 134.4h0M1810.1 147.1h0M1810.1 162.7h0M1810.1 176.9h0M1810.1 186.8h0M1810.1 193.2h0M1810.1 200.9h0M1810.1 210.7h0M1810.1 215.5h0M1810.1 224.4h0M1810.1 233.3h0M1810.1 247.8h0M1810.1 254h0M1810.1 263.2h0M1810.1 284.4h0M1814.5 111.5h0M1814.5 140.2h0M1814.5 182.5h0M1814.5 187.7h0M1814.5 195.4h0M1814.5 207.3h0M1814.5 214h0M1814.5 224.5h0M1814.5 234.3h0M1814.5 242.9h0M1814.5 251h0M1814.5 253.6h0M1814.5 267.8h0M1814.5 294.4h0M1818.8 179.3h0M1818.8 198.9V199.6M1818.8 212.6h0M1818.8 230.2h0M1818.8 234.9h0M1818.8 245.9h0M1818.8 257.3h0M1818.8 268.1h0M1823.2 74.1h0M1823.2 156.3h0M1823.2 169.6h0M1823.2 181.7h0M1823.2 194.4h0M1823.2 208.9h0M1823.2 216.8h0M1823.2 231.3h0M1823.2 235.7h0M1823.2 245.8h0M1823.2 257.3h0M1823.2 269.5h0M1827.5 162.7h0M1827.5 182.7h0M1827.5 201h0M1827.5 206.8h0M1827.5 223.2h0M1827.5 230h0M1827.5 250.5h0M1827.5 260.3h0M1827.5 267.1h0M1827.5 288h0M1827.5 293.8h0M1831.9 129.1h0M1831.9 156.9h0M1831.9 172.5h0M1831.9 191.5h0M1831.9 209.1h0M1831.9 219.8h0M1831.9 231.4h0M1831.9 247.6h0M1831.9 252.4h0M1831.9 273.8h0M1836.2 148.1h0M1836.2 187.1h0M1836.2 199.1h0M1836.2 200.9h0M1836.2 202.6h0M1836.2 214.4h0M1836.2 225.7h0M1836.2 231.7h0M1836.2 240h0M1836.2 243.3V244.1M1836.2 248.3h0M1836.2 260.7h0M1836.2 266.3h0M1840.6 74.3h0M1840.6 127.1h0M1840.6 193.4h0M1840.6 199.6h0M1840.6 206h0M1840.6 225h0M1840.6 232.4h0M1840.6 240.5h0M1840.6 254.3h0M1840.6 268.1h0M1840.6 293.4h0M1844.9 128.5h0M1844.9 147.1h0M1844.9 168.2h0M1844.9 184.4h0M1844.9 198.3h0M1844.9 207.4h0M1844.9 217.6h0M1844.9 235.8h0M1844.9 240h0M1844.9 252h0M1844.9 267.5h0M1849.3 130.5h0M1849.3 190.3h0M1849.3 195.9h0M1849.3 208.4h0M1849.3 227.1h0M1849.3 236.7h0M1849.3 243.3h0M1849.3 265.3h0M1849.3 274.4h0M1849.3 292.9h0M1853.6 140.2h0M1853.6 167.6h0M1853.6 179.7h0M1853.6 200.6h0M1853.6 207.8h0M1853.6 218.9h0M1853.6 234h0M1853.6 242.5h0M1853.6 263.3h0M1853.6 277.2h0M1853.6 298.7h0M1858 179.5h0M1858 194.2h0M1858 212.4h0M1858 221.2h0M1858 241.3h0M1858 249h0M1858 264.5h0M1858 277h0M1858 305.6h0M1862.3 146.1h0M1862.3 168.2h0M1862.3 178.4h0M1862.3 179.6h0M1862.3 191.7h0M1862.3 202.4h0M1862.3 224.5h0M1862.3 232.5h0M1862.3 239.5h0M1862.3 256.9h0M1862.3 263.5h0M1862.3 279h0M1866.7 139.3h0M1866.7 151h0M1866.7 168.2h0M1866.7 184.2h0M1866.7 202.6h0M1866.7 206.3h0M1866.7 222.8h0M1866.7 244.2h0M1866.7 246.7h0M1866.7 269.6h0M1866.7 273.7h0M1866.7 284h0M1871 155.9h0M1871 178.4h0M1871 187.6h0M1871 195.8h0M1871 209.2h0M1871 229.3h0M1871 234.8h0M1871 250h0M1871 260h0M1871 279.7h0M1871 291.9h0M1875.4 196.5h0M1875.4 209.9h0M1875.4 212.7h0M1875.4 229.7h0M1875.4 240.9h0M1875.4 261.2h0M1875.4 270.7h0M1879.8 200.1h0M1879.8 205.1h0M1879.8 217.8h0M1879.8 230.3h0M1879.8 247.4h0M1879.8 256.9h0M1879.8 279.8h0M1879.8 286h0M1884.1 173.1h0M1884.1 195.1h0M1884.1 203.2h0M1884.1 219.5h0M1884.1 235.7h0M1884.1 247.1h0M1884.1 252.6h0M1884.1 265.5h0M1884.1 279h0M1884.1 293.8h0M1888.5 180h0M1888.5 204.1h0M1888.5 206.3h0M1888.5 225.2h0M1888.5 232.2h0M1888.5 245.6h0M1888.5 268.7h0M1888.5 271.9h0M1892.8 149h0M1892.8 154.9h0M1892.8 203.8h0M1892.8 211.5h0M1892.8 223h0M1892.8 237h0M1892.8 250.5h0M1892.8 266.9h0M1892.8 270.3h0M1892.8 293.8h0M1892.8 314.4h0M1897.2 200.4h0M1897.2 216.4h0M1897.2 235.8h0M1897.2 243.2h0M1897.2 262h0M1897.2 275.7h0M1897.2 300.7h0M1897.2 311.4h0M1901.5 162.7h0M1901.5 195.3h0M1901.5 211h0M1901.5 220.5h0M1901.5 230.2h0M1901.5 248.1h0M1901.5 253.2h0M1901.5 272.3h0M1901.5 288.9h0M1901.5 300.7h0M1901.5 323.8h0M1905.9 179.4h0M1905.9 196.5h0M1905.9 209.5h0M1905.9 232.8h0M1905.9 246h0M1905.9 258.8h0M1905.9 272.1h0M1910.2 67.8h0M1910.2 186.2h0M1910.2 202.1h0M1910.2 214.3h0M1910.2 223.9h0M1910.2 232.3h0M1910.2 247.9h0M1910.2 267.5h0M1910.2 279.1h0M1910.2 302.6h0M1910.2 305.6h0M1914.6 161.4h0M1914.6 210.3h0M1914.6 227.9h0M1914.6 229.7h0M1914.6 243.6h0M1914.6 257.3h0M1914.6 269.5h0M1918.9 215.6h0M1918.9 226.5h0M1918.9 236.9h0M1918.9 253h0M1918.9 262.6h0M1918.9 276h0M1918.9 313.4h0M1918.9 329h0M1923.3 139.3h0M1923.3 204.8h0M1923.3 225.1h0M1923.3 248.8h0M1923.3 255.4h0M1923.3 263.5h0M1923.3 314.4h0M1923.3 344.1h0M1927.6 197h0M1927.6 211.7h0M1927.6 239.6h0M1927.6 250.6h0M1927.6 293.8h0M1927.6 300.7h0M1927.6 367.2h0M1932 242.2h0M1932 249.4h0M1932 305.6h0M1932 322.6h0M1936.3 155.5h0M1936.3 171.5h0M1936.3 177.4h0M1936.3 190.1h0M1936.3 240.9h0M1936.3 253.5h0M1936.3 278.2h0M1936.3 288h0M1936.3 297.7h0M1936.3 340.4h0M1940.7 234h0M1940.7 248.8V249.7M1940.7 268h0M1945 181.7h0M1945 192.5h0M1945 209.7h0M1945 233.2h0M1945 244.5h0M1945 252.7h0M1945 278.2h0M1945 288.9h0M1949.4 234.2h0M1949.4 239.6h0M1949.4 244.8h0M1949.4 281.1h0M1953.7 246.9h0M1953.7 288.9h0M1953.7 355.9h0M1958.1 260.2h0M1958.1 272.3h0M1958.1 281.1h0M1958.1 300.1h0M1962.4 205.8h0M1971.1 292.3h0M1971.1 356.8h0M1979.8 332.4h0M1984.2 244.9h0M1988.5 265.5h0M1992.9 281.1h0M1997.3 315.4h0M1997.3 340.4h0"/>
<path class="ho" d="M1845.6 222.4h0M1873 231.2h0M1902.4 228.3h0M1861.3 198h0M1882.8 205.8h0M1843.7 258.6h0M1868.1 264.5h0M1825.1 258.6h0M1830 201.9h0M1912.1 231.2h0M1892.6 238.1h0M1783 238.1h0M1734.1 166.7h0M1765.4 227.3h0M1836.8 207.7h0"/>
<path class="gr" d="M1662.1 63V372.2M1749.2 63V372.2M1836.2 63V372.2M1923.3 63V372.2M2010.3 63V372.2M1649.8 361.9H2041.5M1649.8 320.6H2041.5M1649.8 279.2H2041.5M1649.8 237.9H2041.5M1649.8 196.6H2041.5M1649.8 155.3H2041.5M1649.8 113.9H2041.5M1649.8 72.6H2041.5"/>
<rect class="bx" x="1647.8" y="61" width="394.7" height="312.2"/>
<path class="tk" d="M1662.1 373.2v9.6M1749.2 373.2v9.6M1836.2 373.2v9.6M1923.3 373.2v9.6M2010.3 373.2v9.6M1647.8 361.9h-9.6M1647.8 320.6h-9.6M1647.8 279.2h-9.6M1647.8 237.9h-9.6M1647.8 196.6h-9.6M1647.8 155.3h-9.6M1647.8 113.9h-9.6M1647.8 72.6h-9.6"/>
<text x="1662.1" y="406.6">0</text>
<text x="1749.2" y="406.6">20</text>
<text x="1836.2" y="406.6">40</text>
<text x="1923.3" y="406.6">60</text>
<text x="2010.3" y="406.6">80</text>
<text transform="translate(1625.5 361.9) rotate(-90)">−4</text>
<text transform="translate(1625.5 279.2) rotate(-90)">−2</text>
<text transform="translate(1625.5 196.6) rotate(-90)">0</text>
<text transform="translate(1625.5 113.9) rotate(-90)">2</text>
<text x="1844.6" y="442.2">Changes sun/cloud</text>
<text transform="translate(1588.8 217.1) rotate(-90)">Differences in h</text>
<text class="ti" x="1845.1" y="44.7">Fichtelberg</text>
<text class="co" x="2031.9" y="90.8" xml:space="preserve">Cor =  −0.35</text>
</g>
<g>
<clipPath id="c_frankfurt"><rect x="104.2" y="524.2" width="394.7" height="312.2"/></clipPath>
<path class="pt" clip-path="url(#c_frankfurt)" d="M118.5 658h0M118.5 662.5h0M118.5 664.4h0M118.5 668.1h0M118.5 701.5h0M118.5 771.5h0M118.5 828.8h0M122.9 653.9h0M122.9 657.2h0M122.9 659.2V668.2M122.9 671.8h0M127.3 617.3h0M127.3 622.9h0M127.3 625.7V668.5M127.3 671.4h0M127.3 672.6h0M127.3 676.1h0M131.6 521.3h0M131.6 592.9h0M131.6 594.8V595.5M131.6 598.1V673.1M131.6 677.6h0M131.6 681.4h0M136 560.2h0M136 570h0M136 580.7h0M136 586.4h0M136 591V591.6M136 593V676.5M136 683.8V684.6M136 706.9h0M140.3 582.7h0M140.3 586.9h0M140.3 592.3V681.2M140.3 684h0M140.3 688.8h0M140.3 704h0M144.7 560.2h0M144.7 581.7V582.4M144.7 589.7V683.3M144.7 687.3V687.7M144.7 690.7h0M149 585.8h0M149 586.9h0M149 592.7V685.5M149 692.3h0M153.4 591.6h0M153.4 593h0M153.4 595.8V686.4M153.4 688.5V688.8M153.4 690.6h0M157.7 586.5h0M157.7 588.3h0M157.7 590.3h0M157.7 594.3V686.7M157.7 689.9h0M157.7 692h0M162.1 539.3h0M162.1 545.9h0M162.1 557.3h0M162.1 582.7h0M162.1 584.9h0M162.1 586.4h0M162.1 592.9V687.1M162.1 692.6h0M162.1 694.9h0M162.1 703h0M166.4 573.9h0M166.4 586.8h0M166.4 588.8h0M166.4 593.4V687.7M166.4 689.8h0M166.4 695.1h0M170.8 569.4h0M170.8 583.7V583.9M170.8 588.2V588.8M170.8 593V688.8M170.8 691.5h0M170.8 695.1h0M175.1 583.7h0M175.1 589.9V590.6M175.1 591.8h0M175.1 593.9V692.6M175.1 695.6V696.4M175.1 711.8h0M179.5 589.9h0M179.5 592.2V592.5M179.5 598.8V694.1M179.5 700V700.3M179.5 710.9h0M183.8 597.6h0M183.8 602V697.1M183.8 703.5V704M183.8 705.5h0M188.2 596.8h0M188.2 601.2h0M188.2 604.2h0M188.2 606.2V701.8M188.2 706.5h0M188.2 710h0M188.2 711.1h0M192.5 570h0M192.5 599.7V601.1M192.5 606.9V705.5M192.5 709.9h0M192.5 712.5h0M192.5 715.2h0M196.9 601V601.3M196.9 602.9h0M196.9 607.9h0M196.9 609.5V711.8M196.9 713h0M196.9 714.5h0M196.9 718.1h0M196.9 729h0M196.9 745.1h0M196.9 760.2h0M201.2 607.1h0M201.2 613.7V614M201.2 617.1V717.7M201.2 719.3h0M201.2 722h0M201.2 747h0M205.6 566.1h0M205.6 614.9h0M205.6 617.4h0M205.6 618.9h0M205.6 623.8V723.4M205.6 725h0M209.9 566.7h0M209.9 608.1h0M209.9 615.9h0M209.9 621.3h0M209.9 624.1V725.3M209.9 738.2h0M214.3 574.5h0M214.3 585.6h0M214.3 597.4h0M214.3 617.9h0M214.3 620.7V621M214.3 623.9V723.7M214.3 725h0M214.3 727.3V727.8M218.6 619.7h0M218.6 620.9h0M218.6 622.7V724.5M218.6 726h0M218.6 727.5h0M223 615V616M223 619.4h0M223 623.2V723.7M223 727.5V727.7M227.4 616.4h0M227.4 620.2h0M227.4 622.7V721.1M227.4 727.7h0M227.4 730.2h0M231.7 590.5h0M231.7 603.2h0M231.7 611.6h0M231.7 614h0M231.7 618.4h0M231.7 620.6V723.3M231.7 730.1h0M231.7 731.9h0M236.1 609.1h0M236.1 615.5V616.7M236.1 618.4V727.6M236.1 729.8h0M236.1 734.3h0M240.4 569h0M240.4 588.2h0M240.4 600.3h0M240.4 612.8h0M240.4 614.3V614.4M240.4 619.2V728M240.4 729.1V730.1M244.8 618.2h0M244.8 621.2h0M244.8 622.7V729.4M244.8 734.3h0M244.8 735.8h0M244.8 737.9h0M244.8 741.2h0M244.8 751.9h0M249.1 616.4h0M249.1 617.9h0M249.1 623.2h0M249.1 624.9V734.4M249.1 740h0M249.1 742.9h0M253.5 599.3h0M253.5 602.3h0M253.5 616h0M253.5 621.6h0M253.5 622.9h0M253.5 625h0M253.5 626.2V739.1M253.5 743.2h0M253.5 744.3h0M253.5 747h0M257.8 622.6h0M257.8 624.3h0M257.8 629.2V743M257.8 745.4h0M257.8 749.6h0M257.8 771.1h0M262.2 612h0M262.2 647.1h0M262.2 648.1h0M262.2 649.6V746.7M262.2 752.2h0M262.2 753.7h0M262.2 754.9h0M266.5 610.1h0M266.5 619.9h0M266.5 625.7h0M266.5 633.6h0M266.5 643.2h0M266.5 647h0M266.5 649.1V746.4M266.5 747.4V747.7M266.5 753.8h0M270.9 642.6h0M270.9 644.7h0M270.9 645.8h0M270.9 650.7V746.5M270.9 749.1h0M270.9 751.2h0M270.9 752.4h0M275.2 558.8h0M275.2 610.1h0M275.2 614.4h0M275.2 646h0M275.2 648.5h0M275.2 651.7V745.4M275.2 746.9V747.3M275.2 769.5h0M275.2 776.4h0M279.6 642.4h0M279.6 646.2V646.4M279.6 654.2V747.6M279.6 749.7V750.3M279.6 765.6h0M283.9 585.6h0M283.9 609.1h0M283.9 639.4h0M283.9 649h0M283.9 651.8h0M283.9 657.4V751.6M283.9 753.9h0M283.9 756.3h0M283.9 758.7h0M288.3 613h0M288.3 662.2h0M288.3 663.8h0M288.3 665.3V754.7M288.3 755.9h0M288.3 758.3h0M288.3 784.2h0M292.6 564.5h0M292.6 667h0M292.6 671.2h0M292.6 673V756.7M292.6 761.7h0M292.6 763.2h0M297 630.6h0M297 654.1h0M297 669.1h0M297 671.1h0M297 676.3V757.1M297 759.7h0M297 762.2h0M301.3 628.7h0M301.3 651.2h0M301.3 664.9h0M301.3 669.4h0M301.3 676.2h0M301.3 678.4V760.2M301.3 763.1h0M301.3 764.8h0M301.3 767.4h0M305.7 616h0M305.7 645.3h0M305.7 674.5h0M305.7 675.9h0M305.7 681.2V758.2M305.7 765h0M305.7 766.6h0M310 679.8h0M310 689.6h0M310 697.1h0M310 700.9h0M310 709h0M310 717.3h0M310 725.8h0M310 733.4h0M310 744.9h0M310 750.6h0M310 756.2h0M310 769.9h0M314.4 648.2h0M314.4 658h0M314.4 669.8h0M314.4 686.8h0M314.4 697.5h0M314.4 703.3h0M314.4 710.3h0M314.4 721.4h0M314.4 732.6h0M314.4 745.8h0M314.4 755h0M314.4 762.2h0M314.4 772.7h0M314.4 778.4h0M318.7 676.6h0M318.7 688.8h0M318.7 696h0M318.7 713h0M318.7 723.5h0M318.7 734.6h0M318.7 736.7h0M318.7 752.6h0M318.7 759.3h0M318.7 768.8h0M318.7 789.1h0M323.1 633.6h0M323.1 636.5h0M323.1 656.1h0M323.1 680.5h0M323.1 687.2h0M323.1 698h0M323.1 710.3h0M323.1 724.9V725.8M323.1 736.3h0M323.1 748.4h0M323.1 758.6h0M323.1 769.6h0M327.4 664.9h0M327.4 692.7h0M327.4 699.2h0M327.4 718.9h0M327.4 730.3h0M327.4 734.8h0M327.4 754.4h0M327.4 766.8h0M327.4 775.3h0M331.8 674.7h0M331.8 695.8h0M331.8 714.1h0M331.8 722.5h0M331.8 734.1h0M331.8 754.9h0M331.8 763.7h0M331.8 770.8h0M331.8 800.9h0M336.2 659h0M336.2 668.8h0M336.2 687.9h0M336.2 690h0M336.2 699.8h0M336.2 713.2V713.6M336.2 721.8h0M336.2 724.3h0M336.2 738h0M336.2 743.3h0M336.2 744.9h0M336.2 756.2h0M336.2 763.1h0M336.2 769.5h0M336.2 773.7h0M336.2 782.1h0M336.2 787.2h0M336.2 805.7h0M340.5 659h0M340.5 695.3h0M340.5 708.7h0M340.5 711.7h0M340.5 723.4h0M340.5 741.6h0M340.5 750.8h0M340.5 754.8h0M340.5 767.7h0M340.5 785.3h0M340.5 796h0M340.5 805.7h0M344.9 629.1h0M344.9 674.7h0M344.9 697.1h0M344.9 701h0M344.9 708.7h0M344.9 719.5h0M344.9 735.5h0M344.9 740.5h0M344.9 754.9h0M344.9 759.5h0M344.9 775h0M344.9 783.7h0M344.9 832.2h0M349.2 697.1h0M349.2 706.1h0M349.2 717.1h0M349.2 728.3h0M349.2 739.2h0M349.2 749.7h0M349.2 755.2h0M349.2 767.4h0M349.2 779.6h0M353.6 659.6h0M353.6 680.5h0M353.6 685.4h0M353.6 697.5h0M353.6 715h0M353.6 728.3h0M353.6 732.4h0M353.6 740.5h0M353.6 754.2h0M353.6 766.5h0M353.6 776.9h0M353.6 791.1h0M357.9 625.7h0M357.9 727.2h0M357.9 735.2h0M357.9 745.9h0M357.9 756.4h0M357.9 767h0M357.9 775.3h0M357.9 799.9h0M357.9 827.3h0M362.3 701.1h0M362.3 707.9h0M362.3 726.4h0M362.3 731.3h0M362.3 749.8h0M362.3 752.2h0M362.3 769.9h0M362.3 780.9h0M362.3 809.7h0M362.3 821.4h0M366.6 748.4h0M366.6 750h0M366.6 767.8h0M366.6 772.4h0M366.6 795h0M371 685.4h0M371 709.9h0M371 744.9h0M371 750.1h0M371 765.1h0M371 772.4h0M375.3 695.2h0M375.3 720.6h0M375.3 746.7h0M375.3 759.3h0M375.3 765.2h0M375.3 812.6h0M375.3 817.5h0M375.3 825.3h0M379.7 729.4h0M379.7 758.2h0M379.7 760.9h0M379.7 784.2h0M384 699.1h0M384 707.9h0M384 712.8h0M384 731.4h0M384 751.9h0M384 770.5h0M388.4 737.3h0M388.4 805.7h0M388.4 810.6h0M392.7 681.5h0M392.7 692.3h0M392.7 771.5h0M392.7 783.2h0M392.7 805.7h0M397.1 685.4h0M397.1 703h0M401.4 687.4h0M401.4 736.3h0M401.4 761.7h0M401.4 784.2h0M401.4 799.9h0M405.8 731.8h0M405.8 774.4h0M405.8 801.8h0M410.1 783.2h0M410.1 793h0M410.1 812h0M414.5 778.4h0M418.8 792h0M423.2 783.2h0M423.2 801.8h0M427.5 769.2h0M440.6 760.7h0M440.6 788.7h0"/>
<path class="ho" d="M172.5 603.2h0M221.4 627.7h0M234.1 632.6h0M197.9 706.9h0M345.6 717.7h0M364.2 745.1h0M321.2 770.5h0M347.6 771.5h0M260.5 740.2h0M346.6 739.2h0M212.6 719.7h0M258.6 623.8h0"/>
<path class="gr" d="M118.5 526.2V835.4M205.6 526.2V835.4M292.6 526.2V835.4M379.7 526.2V835.4M466.7 526.2V835.4M106.2 825.1H497.9M106.2 783.8H497.9M106.2 742.5H497.9M106.2 701.1H497.9M106.2 659.8H497.9M106.2 618.5H497.9M106.2 577.1H497.9M106.2 535.8H497.9"/>
<rect class="bx" x="104.2" y="524.2" width="394.7" height="312.2"/>
<path class="tk" d="M118.5 836.4v9.6M205.6 836.4v9.6M292.6 836.4v9.6M379.7 836.4v9.6M466.7 836.4v9.6M104.2 825.1h-9.6M104.2 783.8h-9.6M104.2 742.5h-9.6M104.2 701.1h-9.6M104.2 659.8h-9.6M104.2 618.5h-9.6M104.2 577.1h-9.6M104.2 535.8h-9.6"/>
<text x="118.5" y="869.8">0</text>
<text x="205.6" y="869.8">20</text>
<text x="292.6" y="869.8">40</text>
<text x="379.7" y="869.8">60</text>
<text x="466.7" y="869.8">80</text>
<text transform="translate(81.9 825.1) rotate(-90)">−4</text>
<text transform="translate(81.9 742.5) rotate(-90)">−2</text>
<text transform="translate(81.9 659.8) rotate(-90)">0</text>
<text transform="translate(81.9 577.1) rotate(-90)">2</text>
<text x="308.4" y="914">Changes sun/cloud</text>
<text transform="translate(45.2 680.3) rotate(-90)">Differences in h</text>
<text class="ti" x="301.6" y="507.9">Frankfurt</text>
<text class="co" x="488.3" y="554" xml:space="preserve">Cor =  −0.61</text>
</g>
<g>
<clipPath id="c_goerlitz"><rect x="618.6" y="524.2" width="394.7" height="312.2"/></clipPath>
<path class="pt" clip-path="url(#c_goerlitz)" d="M633 658.4h0M633 763.1h0M637.3 654V654.2M637.3 655.8V658.5M637.3 666h0M641.7 635.5h0M641.7 638.7V638.8M641.7 640.1V662.4M641.7 664.2h0M646 598.7h0M646 609.8h0M646 611.8h0M646 616.3V664.8M646 666.7h0M646 668.7h0M646 670.2h0M646 732h0M650.4 596.8h0M650.4 601.2h0M650.4 608.6V671.2M650.4 674.1h0M650.4 676.1h0M650.4 677.6h0M654.7 600.8V601.5M654.7 609.7V670.9M654.7 674.8h0M659.1 601.2h0M659.1 605.6h0M659.1 609.3V670.7M659.1 672.9h0M659.1 675.9h0M663.4 608.9h0M663.4 610.3V672.3M663.4 678.1h0M663.4 680.3h0M667.8 572.9h0M667.8 580.7h0M667.8 594.4h0M667.8 598.9h0M667.8 608.9h0M667.8 612V674.4M667.8 678.9h0M667.8 680.4h0M672.1 550.4h0M672.1 582.3h0M672.1 593.5h0M672.1 605.2h0M672.1 607.8h0M672.1 609.2h0M672.1 614.5V677.9M672.1 681.9h0M672.1 683.5h0M672.1 700.1h0M676.5 598.3h0M676.5 604.8h0M676.5 613.3V613.7M676.5 617.9V676.9M676.5 681.7V681.8M680.8 593.9V594.4M680.8 604.2h0M680.8 611.7h0M680.8 615.9V678.4M680.8 683.9V684.4M685.2 546.5h0M685.2 553.3h0M685.2 560.2h0M685.2 587.6h0M685.2 608.7V609.6M685.2 614.7h0M685.2 616.4V676.3M685.2 681.4h0M685.2 682.9h0M689.5 566.1h0M689.5 592.5h0M689.5 599.7h0M689.5 609.2h0M689.5 613.6h0M689.5 615.8V681.7M693.9 581.7h0M693.9 586.6h0M693.9 601.4h0M693.9 613.3h0M693.9 615.6V683M693.9 684.5h0M693.9 689.6V690M698.2 582.2h0M698.2 598.3h0M698.2 609.3V610.1M698.2 614.5h0M698.2 616.9V683.8M698.2 686.5h0M698.2 688.4h0M698.2 737.7h0M702.6 580.3h0M702.6 596.4h0M702.6 598.5h0M702.6 602.3h0M702.6 616.4V616.9M702.6 618.2V686.4M702.6 690.9V691.1M706.9 579.5h0M706.9 587.6h0M706.9 612.5h0M706.9 617.4h0M706.9 618.8V689.4M706.9 695.5V695.8M711.3 553.9h0M711.3 582.4h0M711.3 586.6h0M711.3 615.9h0M711.3 619.5h0M711.3 621.8V690.1M711.3 693.2h0M711.3 696.6h0M711.3 705h0M715.6 591.8h0M715.6 616.1V616.8M715.6 620.8h0M715.6 623.7V692.3M715.6 695.8h0M715.6 704h0M720 584.7h0M720 594.8h0M720 617.3h0M720 621.7h0M720 626.2V691.6M720 697.4h0M720 699.3h0M724.3 575.8h0M724.3 578.3h0M724.3 582.7h0M724.3 590.5h0M724.3 597.4h0M724.3 612.2h0M724.3 614.5V614.8M724.3 619V694.6M724.3 699.5V699.8M724.3 710.9h0M728.7 570h0M728.7 595.8h0M728.7 607.4h0M728.7 611.6h0M728.7 613.1h0M728.7 615.9V692.3M728.7 694h0M728.7 695h0M733 567.4h0M733 590h0M733 608.5V609.5M733 610.7h0M733 615.5V693.4M733 696.3h0M733 698.1h0M737.4 589.5h0M737.4 597.4h0M737.4 610.7h0M737.4 614.3V692.1M737.4 695.5h0M737.4 697.4h0M737.4 701.3h0M737.4 706.9h0M741.8 560.2h0M741.8 605.5h0M741.8 610h0M741.8 611.6h0M741.8 615.1V696.1M741.8 700.9V701M741.8 725.9h0M746.1 547.5h0M746.1 567.4h0M746.1 600.6h0M746.1 607.9h0M746.1 613h0M746.1 614.5V696.3M746.1 697.9h0M750.5 551.4h0M750.5 586.6h0M750.5 592.5h0M750.5 608.4h0M750.5 610.8h0M750.5 617.8V694M750.5 696.5h0M750.5 698.5h0M750.5 702.3h0M754.8 599.3h0M754.8 616.6h0M754.8 617.6V696.4M754.8 700.3h0M754.8 705h0M759.2 567h0M759.2 615.4h0M759.2 617.8V696.9M759.2 699.2h0M759.2 702h0M759.2 708.9h0M763.5 565.5h0M763.5 587.6h0M763.5 608.1h0M763.5 612h0M763.5 617.8h0M763.5 619.8V697.6M763.5 699.7V699.8M763.5 707.2h0M767.9 604.2h0M767.9 615.3h0M767.9 619.5V699.6M767.9 702.8h0M767.9 704.1h0M767.9 708.3h0M767.9 718.7h0M772.2 616.8h0M772.2 619.9h0M772.2 621.8V702M772.2 707.3V707.6M772.2 709.7h0M776.6 625h0M776.6 627.9h0M776.6 629.6h0M776.6 634.1V705.1M776.6 707.5h0M776.6 710.5h0M776.6 726.5h0M780.9 578.2h0M780.9 606.2h0M780.9 614h0M780.9 629V629.3M780.9 630.6h0M780.9 632.3V704.9M780.9 709.7h0M780.9 711.6h0M780.9 713.7h0M785.3 595.8h0M785.3 628.4h0M785.3 630.9V705.5M785.3 707.4V707.5M785.3 721.6h0M789.6 625.6V626.4M789.6 632.3V706.1M789.6 709.5h0M789.6 711.3h0M789.6 714.8h0M794 606.2h0M794 613h0M794 623.1h0M794 631.1h0M794 632.8V708.8M794 710.1V710.8M794 723.6h0M794 729.4h0M798.3 622.7h0M798.3 624.8h0M798.3 626.1h0M798.3 628.8V707.8M798.3 710.4h0M798.3 713.8h0M798.3 735.3h0M798.3 744.1h0M802.7 623.2h0M802.7 626.7h0M802.7 627.8V708.8M802.7 711.7h0M802.7 713.7h0M807 615h0M807 631.2h0M807 637.4h0M807 643h0M807 649.4h0M807 657.6h0M807 671.1h0M807 679.7h0M807 684.7h0M807 697.9h0M807 704.9h0M807 716.3h0M807 727.5h0M807 734.3h0M811.4 520.5h0M811.4 592.5h0M811.4 601.3h0M811.4 626.4h0M811.4 634.2h0M811.4 645.2h0M811.4 660.5h0M811.4 667.4h0M811.4 680.5h0M811.4 683.4h0M811.4 695.6h0M811.4 700.9h0M811.4 711.8h0M811.4 735.3h0M815.7 547.5h0M815.7 624.1h0M815.7 638.5h0M815.7 645.6h0M815.7 662.4h0M815.7 676.3h0M815.7 685.3h0M815.7 693.5h0M815.7 701.5h0M815.7 710.4h0M815.7 748h0M820.1 615.6h0M820.1 634.7h0M820.1 650.2V651M820.1 668.1h0M820.1 679.2h0M820.1 694.9h0M820.1 699.4h0M820.1 719.8h0M824.4 654.3h0M824.4 670h0M824.4 676.9h0M824.4 686.6h0M824.4 698.7h0M824.4 712.4h0M828.8 608.5h0M828.8 615h0M828.8 660.5h0M828.8 678.6h0M828.8 686.2h0M828.8 706.6h0M828.8 716.2h0M833.1 648.2h0M833.1 653.9h0M833.1 664.5h0M833.1 665.7h0M833.1 674.1h0M833.1 679.1h0M833.1 681.7h0M833.1 695.3h0M833.1 699.4h0M833.1 704.9h0M833.1 711.1h0M833.1 713h0M833.1 730.4h0M833.1 736.3h0M833.1 782.9h0M837.5 660.8h0M837.5 663.6h0M837.5 680.3h0M837.5 684.2h0M837.5 696h0M837.5 709.2h0M837.5 711.5h0M841.8 652h0M841.8 667.1h0M841.8 672.4h0M841.8 688.3h0M841.8 692.7h0M841.8 706.4h0M841.8 716.8h0M841.8 724h0M841.8 758.2h0M841.8 786.8h0M846.2 581.7h0M846.2 649.2V650M846.2 664.7h0M846.2 671.9h0M846.2 689.4h0M846.2 696.2h0M846.2 699.6h0M846.2 713.3h0M846.2 735.3h0M850.6 655.1h0M850.6 663.3h0M850.6 677.2h0M850.6 684.1h0M850.6 690.3h0M850.6 707.7h0M850.6 711.3h0M850.6 734.3h0M850.6 756.8h0M854.9 607.2h0M854.9 623.8h0M854.9 637.1h0M854.9 657.2h0M854.9 669.2h0M854.9 676.5h0M854.9 683.7h0M854.9 691.6h0M854.9 702.2h0M854.9 716.5h0M854.9 729.4h0M859.3 624.8h0M859.3 645.3h0M859.3 655.7h0M859.3 667.9h0M859.3 670.8h0M859.3 685.9h0M859.3 694h0M859.3 706.8h0M859.3 713.2h0M859.3 725.5h0M859.3 736.3h0M859.3 745.1h0M863.6 707.4h0M863.6 710.4h0M863.6 746.1h0M868 607.2h0M868 668.8h0M868 680.5h0M868 717.7h0M872.3 637.5h0M872.3 642.4h0M872.3 652.2h0M872.3 709.9h0M872.3 727.5h0M876.7 591.1h0M876.7 660h0M876.7 668.8h0M876.7 682.5h0M876.7 724.5h0M876.7 756.8h0M881 647.7h0M881 669.8h0M881 683.5h0M881 699.1h0M881 729.4h0M881 758.8h0M885.4 704h0M885.4 722.6h0M885.4 728.5h0M885.4 746.7h0M889.7 632.6h0M889.7 669.8h0M889.7 686.4h0M889.7 694.2h0M889.7 742.7h0M889.7 769.5h0M894.1 621.4h0M894.1 632.6h0M894.1 674.7h0M894.1 680.5h0M894.1 700.1h0M894.1 707.9h0M898.4 659h0M898.4 664.9h0M902.8 640h0M902.8 672.7h0M902.8 695.2h0M902.8 749h0M907.1 691.3h0M907.1 712.4h0M907.1 742.2h0M907.1 752.9h0M911.5 692.3h0M915.8 642.4h0M915.8 677.6h0M915.8 691.9h0M915.8 725.1h0M915.8 744.1h0M920.2 598.9h0M920.2 649.2h0M928.9 680.5h0M928.9 739.6h0M937.6 689.9h0M937.6 766.6h0M937.6 773.5h0M959.4 730.8h0"/>
<path class="ho" d="M709 624.8h0M776.5 649.2h0M779.4 647.7h0M800 645.3h0M805.8 662.9h0M826.4 682.5h0M840.1 679.5h0M822.5 706.9h0M695.3 685.4h0M740.3 694.2h0M813.7 632.6h0M795.1 634.5h0M855.7 663.9h0M826.4 666.8h0"/>
<path class="gr" d="M633 526.2V835.4M720 526.2V835.4M807 526.2V835.4M894.1 526.2V835.4M981.1 526.2V835.4M620.6 825.1H1012.3M620.6 783.8H1012.3M620.6 742.5H1012.3M620.6 701.1H1012.3M620.6 659.8H1012.3M620.6 618.5H1012.3M620.6 577.1H1012.3M620.6 535.8H1012.3"/>
<rect class="bx" x="618.6" y="524.2" width="394.7" height="312.2"/>
<path class="tk" d="M633 836.4v9.6M720 836.4v9.6M807 836.4v9.6M894.1 836.4v9.6M981.1 836.4v9.6M618.6 825.1h-9.6M618.6 783.8h-9.6M618.6 742.5h-9.6M618.6 701.1h-9.6M618.6 659.8h-9.6M618.6 618.5h-9.6M618.6 577.1h-9.6M618.6 535.8h-9.6"/>
<text x="633" y="869.8">0</text>
<text x="720" y="869.8">20</text>
<text x="807" y="869.8">40</text>
<text x="894.1" y="869.8">60</text>
<text x="981.1" y="869.8">80</text>
<text transform="translate(596.3 825.1) rotate(-90)">−4</text>
<text transform="translate(596.3 742.5) rotate(-90)">−2</text>
<text transform="translate(596.3 659.8) rotate(-90)">0</text>
<text transform="translate(596.3 577.1) rotate(-90)">2</text>
<text x="823.4" y="914">Changes sun/cloud</text>
<text transform="translate(559.6 680.3) rotate(-90)">Differences in h</text>
<text class="ti" x="816" y="507.9">Goerlitz</text>
<text class="co" x="1002.7" y="554" xml:space="preserve">Cor =  −0.25</text>
</g>
<g>
<clipPath id="c_hamburg"><rect x="1133.3" y="524.2" width="394.7" height="312.2"/></clipPath>
<path class="pt" clip-path="url(#c_hamburg)" d="M1147.6 659.5h0M1147.6 663.6h0M1147.6 669.5h0M1147.6 672.3h0M1152 652h0M1152 655h0M1152 659.2V663.6M1152 664.8h0M1152 668.6h0M1156.4 644.7h0M1156.4 647.5h0M1156.4 650.5V664.8M1156.4 666.8h0M1156.4 672.6h0M1160.7 610.1h0M1160.7 611.4h0M1160.7 619V668.9M1160.7 672.9h0M1165.1 548.5h0M1165.1 565.1h0M1165.1 569h0M1165.1 590.5h0M1165.1 597.4h0M1165.1 606.2h0M1165.1 609.2h0M1165.1 615.3h0M1165.1 617.2V668M1165.1 669.1V670M1165.1 674.5h0M1169.4 612.9h0M1169.4 616.1h0M1169.4 618.6V668.7M1169.4 673.6h0M1169.4 676.1h0M1169.4 677.2h0M1169.4 686.4h0M1173.8 560.2h0M1173.8 616.5h0M1173.8 622.1V622.3M1173.8 623.5V671.3M1173.8 673.4h0M1173.8 678.5h0M1178.1 521.3h0M1178.1 591.5h0M1178.1 601.3h0M1178.1 618.7h0M1178.1 620.6h0M1178.1 622.7h0M1178.1 623.7V673.3M1178.1 674.8h0M1178.1 677.4h0M1178.1 681.1h0M1182.5 615.3h0M1182.5 623.6V677.9M1182.5 684.5V684.7M1186.8 593.5h0M1186.8 611.7V612.4M1186.8 620V680.8M1186.8 682.5V683.1M1191.2 564.1h0M1191.2 599.3h0M1191.2 614.7V615.2M1191.2 617.8V682.9M1191.2 687h0M1191.2 688.6h0M1191.2 690.5h0M1195.5 544.5h0M1195.5 594.4h0M1195.5 605.2h0M1195.5 607.7h0M1195.5 610.6h0M1195.5 614.1V684.1M1195.5 687.2h0M1195.5 688.7h0M1195.5 773.5h0M1199.9 566.1h0M1199.9 581.7h0M1199.9 610.3h0M1199.9 613h0M1199.9 614.7V685.9M1199.9 688.8h0M1199.9 693.2h0M1204.2 582.3h0M1204.2 606.9h0M1204.2 613.6V687.1M1204.2 693.7V694.2M1208.6 575.8h0M1208.6 612.8V613.4M1208.6 615.4V689.6M1208.6 694.8V695.1M1208.6 696.5h0M1212.9 599.3h0M1212.9 610.7h0M1212.9 616.8V691.2M1212.9 695.8h0M1212.9 697.6h0M1212.9 706h0M1217.3 580.7h0M1217.3 585.6h0M1217.3 613.8h0M1217.3 615.5h0M1217.3 618.3h0M1217.3 620.2V691.2M1217.3 692.3h0M1217.3 698.1h0M1217.3 822.4h0M1221.6 615.4h0M1221.6 620.2h0M1221.6 624.3V691.2M1221.6 696.5h0M1221.6 697.7h0M1226 565.1h0M1226 618.6h0M1226 620.2h0M1226 624.9V694.9M1226 700.1h0M1226 708.3h0M1230.3 531.8h0M1230.3 589.5h0M1230.3 617.3V617.8M1230.3 624.9V694.4M1230.3 701.6V702.6M1234.7 611.1h0M1234.7 620.7h0M1234.7 622h0M1234.7 624.7V698M1234.7 700.3h0M1234.7 702.2h0M1239 584.7h0M1239 599.3h0M1239 606.2h0M1239 621.2V621.9M1239 624.1V700M1239 701.7h0M1239 706.4h0M1239 713.8h0M1243.4 594.4h0M1243.4 619.3h0M1243.4 623.7h0M1243.4 625.2V701.7M1243.4 703.3h0M1243.4 708.4h0M1243.4 709.4h0M1247.7 604.2h0M1247.7 621.2V705.1M1247.7 708.8V709.1M1247.7 746.5h0M1252.1 619.2V619.3M1252.1 621.8V705.9M1252.1 707.9h0M1252.1 710.6h0M1252.1 712.8h0M1252.1 724.9h0M1256.4 572.5h0M1256.4 598.9h0M1256.4 615.7V616.1M1256.4 621.9V707.6M1256.4 713h0M1256.4 715.4h0M1260.8 612.5h0M1260.8 614.1V614.3M1260.8 620.2V711.7M1260.8 713.1h0M1260.8 717.9h0M1265.2 589.5h0M1265.2 610.8h0M1265.2 611.9h0M1265.2 614.7h0M1265.2 619.4V712.6M1265.2 716.8h0M1269.5 562.7h0M1269.5 584.7h0M1269.5 596.4h0M1269.5 602.3h0M1269.5 613.5h0M1269.5 615.7h0M1269.5 619V711M1269.5 713.8h0M1269.5 720.1h0M1273.9 618.8h0M1273.9 621.1h0M1273.9 622.3V711.5M1273.9 714.7h0M1273.9 720.9h0M1273.9 735.9h0M1278.2 615V615.9M1278.2 621.7V715.7M1278.2 722.8h0M1278.2 727.5h0M1282.6 620.8h0M1282.6 622.7V719M1282.6 720.4h0M1282.6 725.1h0M1282.6 743.1h0M1286.9 609.7h0M1286.9 622.2h0M1286.9 625.4V719.1M1286.9 720.6V721.2M1286.9 724.3h0M1286.9 751h0M1291.3 601.7h0M1291.3 634.5h0M1291.3 635.6h0M1291.3 637h0M1291.3 641.3V721.5M1291.3 725.6h0M1291.3 727.7h0M1291.3 760.7h0M1295.6 641.4V641.7M1295.6 644.6V723.9M1295.6 730.6V731M1300 630.6h0M1300 646.6V647.6M1300 650.9V728.9M1304.3 620.8h0M1304.3 645.3h0M1304.3 647.5h0M1304.3 659.3h0M1304.3 665.6h0M1304.3 679.4h0M1304.3 683.3h0M1304.3 691.3h0M1304.3 704.2h0M1304.3 710.5h0M1304.3 715.2h0M1304.3 727.4h0M1304.3 734.6h0M1304.3 751.9h0M1304.3 763.1h0M1308.7 583.1h0M1308.7 625.4h0M1308.7 652.9h0M1308.7 667.9h0M1308.7 677.6h0M1308.7 684.3h0M1308.7 698.9h0M1308.7 701.4h0M1308.7 715.4h0M1308.7 725.3h0M1308.7 736.2h0M1308.7 795h0M1313 574.5h0M1313 653.5h0M1313 671.9h0M1313 678.6h0M1313 683.8h0M1313 698.2h0M1313 707.9h0M1313 719h0M1313 723.5h0M1313 736h0M1313 750h0M1317.4 600.3h0M1317.4 610.1h0M1317.4 637.5h0M1317.4 643.4h0M1317.4 648.2h0M1317.4 664.2h0M1317.4 672.1h0M1317.4 687.1h0M1317.4 690.3h0M1317.4 707.2h0M1317.4 716.5h0M1317.4 720.6h0M1317.4 736.9h0M1317.4 756.8h0M1321.7 662.9h0M1321.7 682.9h0M1321.7 689.6h0M1321.7 700.1h0M1321.7 717.4h0M1321.7 721.7h0M1321.7 738.2h0M1321.7 762.7h0M1326.1 663.9h0M1326.1 674.4h0M1326.1 690.5h0M1326.1 708.9h0M1326.1 710.8h0M1326.1 721.7h0M1326.1 737.1h0M1330.4 659h0M1330.4 663.5h0M1330.4 672.2h0M1330.4 686.4h0M1330.4 703.2h0M1330.4 714.5h0M1330.4 720.7h0M1330.4 722.9h0M1330.4 730.8h0M1330.4 733.6h0M1330.4 767.6h0M1334.8 581.7h0M1334.8 624.8h0M1334.8 636.1h0M1334.8 656.1h0M1334.8 663.2h0M1334.8 677.6h0M1334.8 691.4h0M1334.8 696.2h0M1334.8 712.8h0M1334.8 719.4h0M1334.8 727.2h0M1334.8 740.4h0M1334.8 763.1h0M1339.1 566.7h0M1339.1 603.8h0M1339.1 665.1h0M1339.1 679.2h0M1339.1 681.5h0M1339.1 690.4h0M1339.1 706.5h0M1339.1 717h0M1339.1 723.8h0M1339.1 731.8h0M1339.1 750.1h0M1339.1 774.4h0M1343.5 629.7h0M1343.5 654.1h0M1343.5 664.2h0M1343.5 682h0M1343.5 693h0M1343.5 700.7h0M1343.5 714.1h0M1343.5 721.8h0M1343.5 733.4h0M1343.5 742.5h0M1347.8 664.6h0M1347.8 673.3h0M1347.8 689.1h0M1347.8 700.8h0M1347.8 719.1h0M1347.8 720.3h0M1347.8 739.1h0M1347.8 752h0M1347.8 764.7h0M1347.8 789.7h0M1347.8 811.6h0M1352.2 633.6h0M1352.2 653.1h0M1352.2 672.4h0M1352.2 683.8h0M1352.2 686.8h0M1352.2 704.4h0M1352.2 709.9h0M1352.2 721.6h0M1352.2 739.2h0M1352.2 753.5h0M1356.5 622.4h0M1356.5 661h0M1356.5 668.2h0M1356.5 675.7h0M1356.5 690.4h0M1356.5 697.7h0M1356.5 708.2h0M1356.5 715.9h0M1356.5 728.6h0M1356.5 741.8h0M1356.5 754.5h0M1356.5 765.6h0M1356.5 784.2h0M1360.9 655.5h0M1360.9 668.1h0M1360.9 683.6h0M1360.9 693.6h0M1360.9 702.9h0M1360.9 718.7h0M1360.9 727.4h0M1360.9 740.2h0M1360.9 751.1h0M1360.9 790.1h0M1365.2 618.9h0M1365.2 629.7h0M1365.2 675.4h0M1365.2 683.7h0M1365.2 695.4h0M1365.2 701.9h0M1365.2 715h0M1365.2 724.8h0M1365.2 735.7h0M1365.2 746.2h0M1365.2 750h0M1365.2 784.2h0M1369.6 625.7h0M1369.6 636.5h0M1369.6 674.5h0M1369.6 679.6h0M1369.6 693.8h0M1369.6 706.6h0M1369.6 716.6h0M1369.6 726.7h0M1369.6 736.9h0M1369.6 746.2h0M1369.6 759.8h0M1369.6 768.6h0M1369.6 801.8h0M1374 674.2h0M1374 684.3h0M1374 699h0M1374 709.4h0M1374 715.3h0M1374 727.1h0M1374 742.6h0M1374 753.7h0M1374 756.7h0M1374 793h0M1374 815.5h0M1378.3 659h0M1378.3 679.9h0M1378.3 688.5h0M1378.3 696.9h0M1378.3 713.3h0M1378.3 725h0M1378.3 734.2h0M1378.3 743.1h0M1378.3 755.6h0M1378.3 765.6h0M1382.7 647.9h0M1382.7 688.1h0M1382.7 691.5h0M1382.7 711.4h0M1382.7 719.9h0M1382.7 734.2h0M1382.7 741.3h0M1382.7 748.4h0M1382.7 762.7h0M1382.7 784.2h0M1387 624.4h0M1387 652.2h0M1387 659h0M1387 694.2h0M1387 714h0M1387 717.9h0M1387 732h0M1387 745.1h0M1391.4 647.3h0M1391.4 698.7h0M1391.4 711.7h0M1391.4 721.9h0M1391.4 730.8h0M1391.4 745.9h0M1391.4 757.2h0M1391.4 778.4h0M1391.4 784.6h0M1395.7 686.4h0M1395.7 704.2h0M1395.7 716h0M1395.7 730.4h0M1395.7 737.8h0M1395.7 751.1h0M1395.7 760h0M1395.7 772.5h0M1400.1 662.5h0M1400.1 679.9h0M1400.1 692.7h0M1400.1 702.2h0M1400.1 713.1h0M1400.1 742.4h0M1400.1 759h0M1400.1 795h0M1404.4 657.6h0M1404.4 706.5h0M1404.4 712.8h0M1404.4 715.4h0M1404.4 738.7h0M1404.4 750h0M1404.4 786.2h0M1404.4 805.7h0M1408.8 700.1h0M1408.8 738.4h0M1408.8 750.7h0M1408.8 754.9h0M1408.8 774.4h0M1413.1 706.9h0M1413.1 739.4h0M1413.1 748.3h0M1413.1 795h0M1413.1 803.8h0M1413.1 830.2h0M1417.5 728.5h0M1417.5 747.1h0M1417.5 756.9h0M1417.5 769.5h0M1421.8 676.2h0M1421.8 731.4h0M1421.8 740.5h0M1421.8 760.7h0M1426.2 659h0M1426.2 711.8h0M1426.2 746.7h0M1426.2 751.1h0M1426.2 797.9h0M1430.5 647.9h0M1430.5 725.5h0M1430.5 744.5h0M1430.5 761.7h0M1430.5 801.8h0M1434.9 691.3h0M1434.9 739.2h0M1439.2 674.1h0M1439.2 756.8h0M1439.2 798.9h0M1443.6 762.3h0M1443.6 790.1h0M1447.9 778.7h0M1452.3 796h0M1456.6 688.9h0M1456.6 783.8h0M1456.6 799.9h0M1461 713.4h0M1461 798.9h0M1465.3 756.2h0M1465.3 767.2h0M1465.3 780.3h0M1478.4 754.5h0M1478.4 802.4h0"/>
<path class="ho" d="M1214.2 624.8h0M1178 618.9h0M1241.6 641.4h0M1316.9 689.3h0M1313 672.7h0M1303.2 712.8h0M1252.4 625.7h0"/>
<path class="gr" d="M1147.6 526.2V835.4M1234.7 526.2V835.4M1321.7 526.2V835.4M1408.8 526.2V835.4M1495.8 526.2V835.4M1135.3 825.1H1527M1135.3 783.8H1527M1135.3 742.5H1527M1135.3 701.1H1527M1135.3 659.8H1527M1135.3 618.5H1527M1135.3 577.1H1527M1135.3 535.8H1527"/>
<rect class="bx" x="1133.3" y="524.2" width="394.7" height="312.2"/>
<path class="tk" d="M1147.6 836.4v9.6M1234.7 836.4v9.6M1321.7 836.4v9.6M1408.8 836.4v9.6M1495.8 836.4v9.6M1133.3 825.1h-9.6M1133.3 783.8h-9.6M1133.3 742.5h-9.6M1133.3 701.1h-9.6M1133.3 659.8h-9.6M1133.3 618.5h-9.6M1133.3 577.1h-9.6M1133.3 535.8h-9.6"/>
<text x="1147.6" y="869.8">0</text>
<text x="1234.7" y="869.8">20</text>
<text x="1321.7" y="869.8">40</text>
<text x="1408.8" y="869.8">60</text>
<text x="1495.8" y="869.8">80</text>
<text transform="translate(1111 825.1) rotate(-90)">−4</text>
<text transform="translate(1111 742.5) rotate(-90)">−2</text>
<text transform="translate(1111 659.8) rotate(-90)">0</text>
<text transform="translate(1111 577.1) rotate(-90)">2</text>
<text x="1333.4" y="913.5">Changes sun/cloud</text>
<text transform="translate(1074.3 680.3) rotate(-90)">Differences in h</text>
<text class="ti" x="1330.6" y="507.9">Hamburg</text>
<text class="co" x="1517.4" y="554" xml:space="preserve">Cor =  −0.52</text>
</g>
<g>
<clipPath id="c_helgoland"><rect x="1647.8" y="524.2" width="394.7" height="312.2"/></clipPath>
<path class="pt" clip-path="url(#c_helgoland)" d="M1662.1 658.4h0M1662.1 660.6h0M1662.1 666.4h0M1666.5 652.3V653M1666.5 654.9h0M1666.5 657.5V672.6M1666.5 676.7V677.6M1670.9 637.5h0M1670.9 639h0M1670.9 645.2V684.5M1670.9 688.4h0M1670.9 691.7h0M1670.9 706h0M1675.2 627.3h0M1675.2 630.1h0M1675.2 634.6V687.1M1675.2 692.4h0M1675.2 693.7h0M1675.2 709.9h0M1679.6 531.8h0M1679.6 623.8h0M1679.6 626.3V628M1679.6 631.9V689M1679.6 693V693.4M1679.6 704h0M1683.9 629.1h0M1683.9 632.1V690M1683.9 692.2h0M1683.9 695.9h0M1688.3 628.2h0M1688.3 631.2h0M1688.3 633.3h0M1688.3 635.3V688.7M1688.3 693.6h0M1688.3 697.5h0M1692.6 581.7h0M1692.6 632.4h0M1692.6 635h0M1692.6 637V693.6M1692.6 706.5h0M1697 631.6h0M1697 634.3h0M1697 638.2V690.7M1697 694.1h0M1697 696h0M1701.3 629.9h0M1701.3 633.5h0M1701.3 636.3V693.3M1701.3 694.5h0M1701.3 698.1h0M1705.7 582.1h0M1705.7 616.9h0M1705.7 630.6h0M1705.7 633.2h0M1705.7 635.2h0M1705.7 637.1V692.8M1705.7 699.7V700M1705.7 701.2h0M1705.7 757.4h0M1710 611.1h0M1710 632.5h0M1710 635.9h0M1710 637V694.3M1710 695.7h0M1710 702.5h0M1714.4 603.2h0M1714.4 619.5h0M1714.4 629.2h0M1714.4 632.8h0M1714.4 636.7V696.4M1714.4 698h0M1714.4 703.8h0M1718.7 566.7h0M1718.7 588.2h0M1718.7 599.3h0M1718.7 626.7h0M1718.7 628.7h0M1718.7 630.1h0M1718.7 633.1h0M1718.7 636.2V698.4M1718.7 719.7h0M1723.1 631.1h0M1723.1 635.5V636M1723.1 637.5V701M1723.1 702.3h0M1723.1 707.8h0M1727.4 537.3h0M1727.4 563.7h0M1727.4 593.5h0M1727.4 620.8h0M1727.4 625.3h0M1727.4 630.9V631.7M1727.4 633.2h0M1727.4 636.7V703.6M1727.4 705.2h0M1727.4 709.6h0M1727.4 712.8h0M1727.4 740.6h0M1731.8 609.7h0M1731.8 625V625.7M1731.8 633.7V634.5M1731.8 635.5V708.2M1731.8 710.8V711.2M1731.8 785.2h0M1736.1 604.6h0M1736.1 624.8h0M1736.1 629.7h0M1736.1 634.3h0M1736.1 638V713.8M1736.1 719.7h0M1736.1 722.4V722.9M1736.1 727.5h0M1740.5 585.6h0M1740.5 616.7h0M1740.5 629.3h0M1740.5 632.5h0M1740.5 636.4V719M1740.5 720.2h0M1740.5 721.6h0M1744.8 611.1h0M1744.8 623.9h0M1744.8 634.7h0M1744.8 636.7h0M1744.8 638.9V720.9M1744.8 723.2V724.2M1744.8 731.4h0M1749.2 601.3h0M1749.2 614h0M1749.2 633.7h0M1749.2 635.6h0M1749.2 638.1V720.4M1749.2 723.1h0M1749.2 725.5h0M1753.5 587h0M1753.5 616h0M1753.5 627.1h0M1753.5 634.7h0M1753.5 637.6h0M1753.5 642.2V722.4M1753.5 724.3V724.5M1753.5 729.4h0M1757.9 559.6h0M1757.9 591.1h0M1757.9 625h0M1757.9 629.7h0M1757.9 641.6h0M1757.9 644.3h0M1757.9 646.7V721.6M1757.9 723.9h0M1757.9 726.9h0M1762.2 623.3h0M1762.2 638.3h0M1762.2 642.4h0M1762.2 645.4h0M1762.2 651.1V723.9M1762.2 726.4h0M1762.2 727.5V727.9M1766.6 614h0M1766.6 620.7h0M1766.6 636.5h0M1766.6 648.1h0M1766.6 651.1V726.1M1766.6 731.3h0M1766.6 732.5h0M1766.6 735.3h0M1770.9 611.1h0M1770.9 624.8h0M1770.9 642.4h0M1770.9 645.9V646.3M1770.9 653.4V727.6M1770.9 733.9h0M1770.9 735.8V736.3M1775.3 608.5h0M1775.3 617.4h0M1775.3 636h0M1775.3 648.8V649.2M1775.3 651.8h0M1775.3 655.2V727.6M1775.3 728.8h0M1775.3 730.3h0M1775.3 731.4h0M1775.3 736.5h0M1775.3 756.8h0M1779.7 622.2h0M1779.7 631.3h0M1779.7 636.5h0M1779.7 649.6h0M1779.7 653.7V730.9M1779.7 732.9h0M1784 610.1V610.9M1784 618.9h0M1784 626.7h0M1784 634.2h0M1784 648.1h0M1784 649.3V650.1M1784 657.3V731.8M1784 736.2h0M1784 737.3h0M1784 740.2h0M1788.4 607.7h0M1788.4 624.7h0M1788.4 647h0M1788.4 651.7h0M1788.4 655.5h0M1788.4 661.5V730.5M1788.4 734.6h0M1788.4 735.8h0M1788.4 738.6h0M1792.7 632.8h0M1792.7 636.5h0M1792.7 655.5h0M1792.7 656.8h0M1792.7 658.7h0M1792.7 662.9V730.3M1792.7 731.5h0M1792.7 738.4V739.2M1797.1 599.7h0M1797.1 627.2h0M1797.1 639.4h0M1797.1 647h0M1797.1 659.9V660.6M1797.1 662.5h0M1797.1 665.5V730M1797.1 732.5h0M1797.1 735.4h0M1801.4 621.4h0M1801.4 625.5h0M1801.4 637.5h0M1801.4 642.1h0M1801.4 659.7h0M1801.4 661.5h0M1801.4 665.9V732.1M1801.4 733.3h0M1801.4 738.1h0M1801.4 739.2V739.7M1801.4 771.1h0M1805.8 616.9h0M1805.8 634.8h0M1805.8 641.4h0M1805.8 649.2h0M1805.8 653h0M1805.8 657.2h0M1805.8 662.3h0M1805.8 664.6h0M1805.8 665.9V732M1805.8 733.4h0M1805.8 739.4h0M1805.8 756.8h0M1805.8 760.7h0M1810.1 630.6h0M1810.1 642.9h0M1810.1 646.2h0M1810.1 660.7V661.6M1810.1 662.6h0M1810.1 665.4V732.8M1810.1 738.3h0M1810.1 740.6h0M1810.1 752.9h0M1814.5 636.5h0M1814.5 655.8h0M1814.5 661.2h0M1814.5 665.9h0M1814.5 667.5V733.4M1814.5 740.2h0M1814.5 741.4h0M1818.8 628.7h0M1818.8 645.3h0M1818.8 655h0M1818.8 659h0M1818.8 665.7V735.6M1818.8 737.5h0M1818.8 751h0M1818.8 797.9h0M1823.2 631.6h0M1823.2 634.4h0M1823.2 647.5h0M1823.2 656.1h0M1823.2 659.8V659.9M1823.2 668V737M1823.2 739.5h0M1823.2 743.6h0M1823.2 751h0M1823.2 763.7h0M1823.2 769.5h0M1823.2 774.4h0M1823.2 779.9h0M1827.5 640.4h0M1827.5 644.9h0M1827.5 665.4h0M1827.5 667.1h0M1827.5 668.3V738.4M1827.5 739.4V739.8M1827.5 752.9h0M1831.9 636.5h0M1831.9 663.9h0M1831.9 665h0M1831.9 667.3h0M1831.9 671.2V737.9M1831.9 742.6V743.1M1831.9 747h0M1836.2 542.2h0M1836.2 648.2h0M1836.2 670.1V738.8M1836.2 740.7h0M1836.2 743.1h0M1836.2 767.6h0M1840.6 646.9h0M1840.6 663.9h0M1840.6 668.4h0M1840.6 674.2V740.6M1840.6 743.9h0M1840.6 745.4h0M1840.6 762.7h0M1844.9 635.1h0M1844.9 668.8h0M1844.9 671.6h0M1844.9 676.5V738.8M1844.9 741.1h0M1844.9 742.5h0M1844.9 745.9h0M1849.3 679.4h0M1849.3 681h0M1849.3 682.8V739.4M1849.3 741.1V741.5M1849.3 766.6h0M1849.3 779.3h0M1853.6 696.5h0M1853.6 701.5h0M1853.6 704.6V736.9M1853.6 744.8h0M1853.6 758.8h0M1853.6 774.4h0M1858 643.7h0M1858 669.2h0M1858 697.8h0M1858 703.7h0M1858 704.9V734.7M1858 735.9h0M1858 740.6h0M1858 742.8h0M1858 749h0M1862.3 701.3h0M1862.3 706.4h0M1862.3 707.8V733.9M1862.3 736.6V737.2M1862.3 754.9h0M1862.3 764.7h0M1862.3 772.5h0M1866.7 624.4h0M1866.7 667.8h0M1866.7 691.3h0M1866.7 702.4h0M1866.7 705.5h0M1866.7 708.2V734.4M1866.7 736.4h0M1866.7 743.5h0M1866.7 751h0M1866.7 775.4h0M1866.7 803.4h0M1871 678.6h0M1871 688.4h0M1871 704.8h0M1871 708.2V736.5M1871 739.6h0M1871 741.2h0M1871 756.8h0M1871 766.6h0M1875.4 700.9h0M1875.4 707.1h0M1875.4 709.5V737.9M1875.4 739.7h0M1875.4 741.1h0M1875.4 745.1h0M1875.4 749h0M1875.4 763.7h0M1879.8 674.7h0M1879.8 691.3h0M1879.8 701.3V702.2M1879.8 709.1V737.8M1879.8 742.4h0M1879.8 758.8h0M1879.8 799.9h0M1884.1 669.8h0M1884.1 686.4h0M1884.1 706.9h0M1884.1 718.1h0M1884.1 725.3h0M1884.1 730.1h0M1884.1 741.2h0M1884.1 752.9h0M1884.1 788.1h0M1888.5 643.4h0M1888.5 665.9h0M1888.5 704.3h0M1888.5 711.2h0M1888.5 720.4h0M1888.5 730.9h0M1888.5 740.2h0M1888.5 749h0M1888.5 789.7h0M1892.8 666.4h0M1892.8 705.5h0M1892.8 713.5h0M1892.8 723.5h0M1892.8 732.9h0M1892.8 756.8h0M1892.8 767.6h0M1897.2 713.4h0M1897.2 726.1h0M1897.2 731.9h0M1897.2 751h0M1897.2 772.5h0M1897.2 795h0M1901.5 613.4h0M1901.5 702h0M1901.5 712.9h0M1901.5 719.7h0M1901.5 729.5h0M1901.5 751.9h0M1901.5 757.8h0M1901.5 786.2h0M1905.9 701.1h0M1905.9 704.3h0M1905.9 719.4h0M1905.9 733.1h0M1905.9 768.6h0M1905.9 774.4h0M1910.2 697.2h0M1910.2 712.5h0M1914.6 693.2h0M1914.6 703h0M1914.6 719.7h0M1914.6 747h0M1914.6 757.8h0M1918.9 692.3h0M1918.9 721.6h0M1918.9 735.3h0M1918.9 746.1h0M1923.3 693.2h0M1923.3 709.9h0M1923.3 716.7h0M1923.3 750h0M1923.3 765.6h0M1927.6 727.5h0M1932 687.4h0M1932 758.8h0M1936.3 715.7h0M1936.3 751.9h0M1936.3 757.8h0M1936.3 772.5h0M1936.3 807.3h0M1940.7 716.1h0M1940.7 742.2h0M1940.7 757.8h0M1940.7 763.7h0M1945 770.5h0M1953.7 733.4h0M1953.7 755.9h0M1953.7 758.8h0M1953.7 797.9h0M1953.7 821h0M1958.1 748h0M1958.1 819h0M1962.4 717.3h0M1966.8 775h0M1979.8 767.2h0M1979.8 793.4h0M1984.2 736.9h0M2001.6 746.5h0"/>
<path class="ho" d="M1706.7 630.6h0M1722.3 625.7h0M1747.8 723.6h0M1812.4 730.4h0M1861.3 735.3h0M1873 707.9h0M1875.9 718.7h0M1813.3 698.1h0M1865.2 719.7h0M1757.6 632.6h0M1892.6 719.7h0M1882.8 731.4h0"/>
<path class="gr" d="M1662.1 526.2V835.4M1749.2 526.2V835.4M1836.2 526.2V835.4M1923.3 526.2V835.4M2010.3 526.2V835.4M1649.8 825.1H2041.5M1649.8 783.8H2041.5M1649.8 742.5H2041.5M1649.8 701.1H2041.5M1649.8 659.8H2041.5M1649.8 618.5H2041.5M1649.8 577.1H2041.5M1649.8 535.8H2041.5"/>
<rect class="bx" x="1647.8" y="524.2" width="394.7" height="312.2"/>
<path class="tk" d="M1662.1 836.4v9.6M1749.2 836.4v9.6M1836.2 836.4v9.6M1923.3 836.4v9.6M2010.3 836.4v9.6M1647.8 825.1h-9.6M1647.8 783.8h-9.6M1647.8 742.5h-9.6M1647.8 701.1h-9.6M1647.8 659.8h-9.6M1647.8 618.5h-9.6M1647.8 577.1h-9.6M1647.8 535.8h-9.6"/>
<text x="1662.1" y="869.8">0</text>
<text x="1749.2" y="869.8">20</text>
<text x="1836.2" y="869.8">40</text>
<text x="1923.3" y="869.8">60</text>
<text x="2010.3" y="869.8">80</text>
<text transform="translate(1625.5 825.1) rotate(-90)">−4</text>
<text transform="translate(1625.5 742.5) rotate(-90)">−2</text>
<text transform="translate(1625.5 659.8) rotate(-90)">0</text>
<text transform="translate(1625.5 577.1) rotate(-90)">2</text>
<text x="1847.9" y="913.5">Changes sun/cloud</text>
<text transform="translate(1588.8 680.3) rotate(-90)">Differences in h</text>
<text class="ti" x="1845.1" y="507.9">Helgoland</text>
<text class="co" x="2031.9" y="554" xml:space="preserve">Cor =  −0.63</text>
</g>
<g>
<clipPath id="c_hohen"><rect x="104.2" y="987.8" width="394.7" height="312.2"/></clipPath>
<path class="pt" clip-path="url(#c_hohen)" d="M118.5 1122.1h0M118.5 1126.6h0M118.5 1131h0M118.5 1132.9h0M118.5 1136.7h0M122.9 1119.2h0M122.9 1121.6V1125.5M122.9 1128.2h0M122.9 1132.1h0M127.3 1096.4V1096.5M127.3 1103.9V1133.1M127.3 1135.2h0M127.3 1255.5h0M131.6 1079.6h0M131.6 1081.2h0M131.6 1086.8V1137.1M131.6 1139.4h0M136 1002.1h0M136 1067.2h0M136 1074.1h0M136 1079.9V1080.9M136 1087.8V1140.8M136 1142.6h0M136 1144.9h0M136 1146.1h0M136 1155.9h0M140.3 1033h0M140.3 1069h0M140.3 1081h0M140.3 1084.8h0M140.3 1087.7V1143.5M140.3 1146V1146.9M144.7 1024.8h0M144.7 1047.7h0M144.7 1069.2h0M144.7 1078.1h0M144.7 1080.4h0M144.7 1083.6h0M144.7 1086.7V1146.4M144.7 1152h0M144.7 1173.9h0M149 1042.8h0M149 1067.7h0M149 1079.6h0M149 1081.6h0M149 1083.7h0M149 1088.9V1148.1M149 1150h0M149 1165.1h0M149 1192.5h0M153.4 1017.7h0M153.4 1034h0M153.4 1054.5h0M153.4 1063.3h0M153.4 1068.8h0M153.4 1072.1h0M153.4 1082.6h0M153.4 1086.4h0M153.4 1087.8V1148.3M153.4 1151.2h0M153.4 1154.2h0M157.7 1039.8h0M157.7 1070.5h0M157.7 1081.2h0M157.7 1083.1h0M157.7 1090.4V1149M157.7 1153.9h0M157.7 1156.9h0M162.1 1062.3h0M162.1 1067.7h0M162.1 1081h0M162.1 1083.6h0M162.1 1088.7V1151.5M162.1 1154.5h0M162.1 1158h0M162.1 1161.2h0M166.4 1045.7h0M166.4 1057.5h0M166.4 1069.2h0M166.4 1073.5h0M166.4 1085.8h0M166.4 1087.2h0M166.4 1089.1h0M166.4 1090.3V1153.2M166.4 1156.9h0M166.4 1282.5h0M170.8 1051.6h0M170.8 1074.1h0M170.8 1083.1h0M170.8 1085.4h0M170.8 1090.4V1154.9M170.8 1156.8h0M170.8 1160.2h0M170.8 1161.8h0M175.1 1075.1h0M175.1 1081.3h0M175.1 1085.6h0M175.1 1087.8h0M175.1 1089.4V1157.3M175.1 1162.1h0M175.1 1164.8h0M179.5 1086.8h0M179.5 1088.3V1157.8M179.5 1159.6h0M179.5 1161.1h0M179.5 1162.4h0M179.5 1214h0M183.8 1056.5h0M183.8 1062.3h0M183.8 1071.4h0M183.8 1081.8h0M183.8 1084.2h0M183.8 1088.3V1159.5M183.8 1161V1161.7M188.2 1051.6h0M188.2 1070.6V1071.2M188.2 1083.2h0M188.2 1087.1h0M188.2 1089.2V1161M188.2 1164.3h0M188.2 1165.5h0M188.2 1168.6h0M188.2 1176.8h0M192.5 1039.3h0M192.5 1048.7h0M192.5 1065.3h0M192.5 1076.2h0M192.5 1082.2h0M192.5 1083.6h0M192.5 1089.5V1163.3M192.5 1166.8h0M192.5 1169.6h0M196.9 1039.8h0M196.9 1065.3h0M196.9 1090h0M196.9 1091.1V1167M196.9 1172.2h0M196.9 1174.3h0M196.9 1196.4h0M201.2 1031h0M201.2 1088.4h0M201.2 1093.1h0M201.2 1095.2V1169.2M201.2 1171.9h0M201.2 1176h0M205.6 1068.2h0M205.6 1089.5h0M205.6 1091.3h0M205.6 1097.8V1171.9M205.6 1174.3V1174.5M205.6 1179.7h0M209.9 1064.3h0M209.9 1088.9V1089.7M209.9 1095.1V1174M209.9 1175.8V1176.5M209.9 1179.8h0M214.3 1024.8h0M214.3 1047.7h0M214.3 1061.4h0M214.3 1074.1h0M214.3 1088.4h0M214.3 1092.5h0M214.3 1094.7V1175.5M214.3 1179.5h0M214.3 1181.2h0M214.3 1198.3h0M214.3 1244.3h0M218.6 989h0M218.6 1057.5h0M218.6 1092h0M218.6 1093.5V1093.9M218.6 1096.1V1180.7M218.6 1184.5V1185.1M223 1037.3h0M223 1058.8h0M223 1077h0M223 1092.8V1092.9M223 1094.3h0M223 1098.1V1183M223 1186.3h0M223 1189.6h0M223 1200.3h0M227.4 1038.3h0M227.4 1070.2h0M227.4 1093.3h0M227.4 1095.5h0M227.4 1096.5h0M227.4 1101.7V1185.9M227.4 1187.4h0M227.4 1188.5h0M231.7 1098.3h0M231.7 1100.1V1100.8M231.7 1104.4V1184.9M231.7 1190.7V1191.2M231.7 1207.1h0M236.1 1046.1h0M236.1 1099.4h0M236.1 1103.8h0M236.1 1106.4V1188M236.1 1190.5h0M240.4 1080.9h0M240.4 1102.9h0M240.4 1105.5h0M240.4 1108.4V1187.5M240.4 1191.1V1191.7M244.8 1027.1h0M244.8 1053.5h0M244.8 1084.3h0M244.8 1095.6h0M244.8 1104.5h0M244.8 1107h0M244.8 1113.8V1190.8M244.8 1195.4V1196.1M244.8 1197.4h0M244.8 1209.1h0M249.1 1104.9h0M249.1 1107h0M249.1 1110.3h0M249.1 1113V1195.3M249.1 1199.1h0M249.1 1203.2V1203.5M249.1 1215h0M253.5 1058.4h0M253.5 1065.3h0M253.5 1075.5h0M253.5 1106.7h0M253.5 1110.2h0M253.5 1115.3V1198.6M253.5 1203h0M253.5 1204.1h0M253.5 1207h0M257.8 1091.7h0M257.8 1098.5h0M257.8 1107.3h0M257.8 1110.7h0M257.8 1114V1202.9M257.8 1207V1207.1M262.2 1075.5h0M262.2 1088.8h0M262.2 1110.3V1110.5M262.2 1114.1h0M262.2 1117.5V1203.6M262.2 1208.7V1209.7M266.5 1057.5h0M266.5 1100.5h0M266.5 1113.6h0M266.5 1121.5h0M266.5 1136.7h0M266.5 1139.9h0M266.5 1151h0M266.5 1158.9h0M266.5 1162.5h0M266.5 1173.2h0M266.5 1183.2h0M266.5 1189.1h0M266.5 1196.7h0M266.5 1204.5h0M270.9 1066.8h0M270.9 1119.5h0M270.9 1128.1h0M270.9 1138.8h0M270.9 1141.7h0M270.9 1150.5h0M270.9 1166.3h0M270.9 1170.5h0M270.9 1179.5h0M270.9 1192.4h0M270.9 1196.2h0M270.9 1203.4h0M275.2 1083.9h0M275.2 1125.4h0M275.2 1133.3h0M275.2 1144.1h0M275.2 1157.8h0M275.2 1166.1h0M275.2 1175.8h0M275.2 1184.6h0M275.2 1198.6h0M275.2 1208.6h0M275.2 1240.4h0M279.6 1110.3h0M279.6 1129h0M279.6 1142.4h0M279.6 1151.7h0M279.6 1164.2h0M279.6 1167.7h0M279.6 1185h0M279.6 1195.2h0M279.6 1210.5h0M283.9 992.3h0M283.9 1107.4h0M283.9 1124.3h0M283.9 1136.9h0M283.9 1151.3h0M283.9 1166.5h0M283.9 1171.6h0M283.9 1183.3h0M283.9 1198.9h0M283.9 1206.4h0M288.3 1069.8h0M288.3 1101.5h0M288.3 1123h0M288.3 1136.5h0M288.3 1147.1h0M288.3 1154.4h0M288.3 1175.6h0M288.3 1179h0M288.3 1202.9h0M288.3 1211.1h0M288.3 1218.9h0M288.3 1224.7h0M288.3 1231.6h0M292.6 1091.1h0M292.6 1137h0M292.6 1145.3V1145.7M292.6 1154.8h0M292.6 1162.7h0M292.6 1171.6h0M292.6 1173.7h0M292.6 1178.1h0M292.6 1180.1h0M292.6 1190.1h0M292.6 1197.9h0M292.6 1199.9h0M292.6 1214.5h0M292.6 1217.9h0M297 1104.4h0M297 1118.1h0M297 1135.5h0M297 1152.1h0M297 1163.7h0M297 1178.8h0M297 1194.2h0M297 1197.8h0M297 1218h0M301.3 1051h0M301.3 1089.7h0M301.3 1119.1h0M301.3 1147.8h0M301.3 1153.1h0M301.3 1163.2h0M301.3 1183.4h0M301.3 1187h0M301.3 1201.7h0M301.3 1213.1h0M305.7 1064.3h0M305.7 1150.8h0M305.7 1159.6h0M305.7 1174.9h0M305.7 1180.1h0M305.7 1190.2h0M305.7 1209.3h0M305.7 1217.1h0M305.7 1226.7h0M305.7 1240.4h0M310 1123h0M310 1126.9h0M310 1152h0M310 1165.9h0M310 1181.1h0M310 1183.3h0M310 1209.2h0M310 1220.5h0M310 1226.7h0M314.4 1127.3h0M314.4 1138.7h0M314.4 1157.1h0M314.4 1161.2h0M314.4 1179.5h0M314.4 1186.2h0M314.4 1198h0M314.4 1218.1h0M314.4 1255.1h0M318.7 1116.2h0M318.7 1160.8h0M318.7 1165.6h0M318.7 1180.6h0M318.7 1188.7h0M318.7 1199.5h0M318.7 1219.9V1220.1M323.1 1123h0M323.1 1142.6h0M323.1 1152.5h0M323.1 1166.3h0M323.1 1176.7h0M323.1 1197.7h0M323.1 1202.3h0M323.1 1216h0M323.1 1243.3h0M327.4 1133.2h0M327.4 1159.7h0M327.4 1170.8h0M327.4 1183.1h0M327.4 1199.8h0M327.4 1205.9h0M327.4 1218.4h0M327.4 1225.7h0M327.4 1239.4h0M327.4 1248.2h0M327.4 1260h0M331.8 1084.8h0M331.8 1146.5h0M331.8 1161.8h0M331.8 1172h0M331.8 1193.3h0M331.8 1207.8h0M331.8 1213.8h0M331.8 1236.5h0M331.8 1243.3h0M331.8 1255.1h0M336.2 1124h0M336.2 1168.4h0M336.2 1174.1h0M336.2 1184.6h0M336.2 1201.5h0M336.2 1203.2h0M336.2 1223.5h0M336.2 1230.6h0M340.5 1144.5h0M340.5 1175.2h0M340.5 1181.5h0M340.5 1198.4h0M340.5 1202.5h0M340.5 1217.5h0M344.9 1186.6h0M344.9 1206.6h0M344.9 1208.6h0M344.9 1287h0M349.2 1127.5h0M349.2 1142.6h0M349.2 1149.4h0M349.2 1183.5h0M349.2 1203.5h0M349.2 1214.3h0M349.2 1220.8h0M349.2 1239.4h0M353.6 1125h0M353.6 1170h0M353.6 1187h0M353.6 1202.6h0M353.6 1212.8h0M357.9 1140.6h0M357.9 1181.7h0M357.9 1190.7h0M357.9 1204h0M357.9 1224.2h0M357.9 1226.3h0M357.9 1237.5h0M357.9 1255.1h0M357.9 1280.5h0M362.3 1189.9h0M362.3 1209h0M362.3 1220.5h0M362.3 1250.2h0M362.3 1286.4h0M366.6 1118.1h0M366.6 1145.1h0M366.6 1163.1h0M366.6 1171.9h0M366.6 1187.6h0M366.6 1198.3h0M366.6 1201.9h0M366.6 1206.2h0M366.6 1218.1h0M366.6 1220.8h0M366.6 1237.5h0M371 1136.1h0M371 1159.2h0M371 1197.4h0M371 1204.2h0M371 1209.1h0M371 1220.8h0M371 1229.6h0M371 1236.5h0M375.3 1156.7h0M379.7 1129.9h0M379.7 1164.7h0M379.7 1183.1h0M379.7 1219.9h0M379.7 1228.7h0M379.7 1251.7h0M384 1111.3h0M384 1258h0M384 1272.7h0M392.7 1188.5h0M392.7 1192.5h0M392.7 1247.2h0M397.1 1168.4h0M397.1 1205.2h0M401.4 1202.2h0M401.4 1211h0M401.4 1223.2h0M405.8 1179.7h0M410.1 1212h0M418.8 1216.5h0M418.8 1226.3h0M423.2 1189.9h0"/>
<path class="ho" d="M216.5 1093.7h0M288.9 1155.3h0M312.4 1176.8h0M314.3 1160.2h0M307.5 1183.7h0M281.1 1181.7h0M164.7 1156.3h0M334.9 1185.6h0M329 1168h0M262.5 1113.2h0"/>
<path class="gr" d="M118.5 989.8V1299M205.6 989.8V1299M292.6 989.8V1299M379.7 989.8V1299M466.7 989.8V1299M106.2 1288.7H497.9M106.2 1247.4H497.9M106.2 1206H497.9M106.2 1164.7H497.9M106.2 1123.4H497.9M106.2 1082.1H497.9M106.2 1040.7H497.9M106.2 999.4H497.9"/>
<rect class="bx" x="104.2" y="987.8" width="394.7" height="312.2"/>
<path class="tk" d="M118.5 1300v9.6M205.6 1300v9.6M292.6 1300v9.6M379.7 1300v9.6M466.7 1300v9.6M104.2 1288.7h-9.6M104.2 1247.4h-9.6M104.2 1206h-9.6M104.2 1164.7h-9.6M104.2 1123.4h-9.6M104.2 1082.1h-9.6M104.2 1040.7h-9.6M104.2 999.4h-9.6"/>
<text x="118.5" y="1333.4">0</text>
<text x="205.6" y="1333.4">20</text>
<text x="292.6" y="1333.4">40</text>
<text x="379.7" y="1333.4">60</text>
<text x="466.7" y="1333.4">80</text>
<text transform="translate(81.9 1288.7) rotate(-90)">−4</text>
<text transform="translate(81.9 1206) rotate(-90)">−2</text>
<text transform="translate(81.9 1123.4) rotate(-90)">0</text>
<text transform="translate(81.9 1040.7) rotate(-90)">2</text>
<text x="311.8" y="1381.7">Changes sun/cloud</text>
<text transform="translate(45.2 1143.9) rotate(-90)">Differences in h</text>
<text class="ti" x="301.6" y="971.5">Hohenpeissenberg</text>
<text class="co" x="484" y="1017.6" xml:space="preserve">Cor =  −0.46</text>
</g>
<g>
<clipPath id="c_konstanz"><rect x="618.6" y="987.8" width="394.7" height="312.2"/></clipPath>
<path class="pt" clip-path="url(#c_konstanz)" d="M633 1123.7h0M633 1126.9h0M637.3 1117h0M637.3 1119.2h0M637.3 1122V1126.3M637.3 1128.9h0M637.3 1130.6h0M641.7 1102V1102.7M641.7 1109V1129.3M641.7 1137.1V1137.8M646 1062.7h0M646 1065.3h0M646 1078.5h0M646 1081.7V1082.5M646 1084.4V1132.5M646 1136.1h0M646 1138.1h0M646 1140.1h0M646 1147.5h0M650.4 1045.1h0M650.4 1055.5h0M650.4 1063.9h0M650.4 1066.3h0M650.4 1074.1h0M650.4 1078.3h0M650.4 1081.9V1134.2M650.4 1139.2V1139.3M650.4 1147.5h0M654.7 1064.1h0M654.7 1077.8V1078.8M654.7 1084.4V1132.9M654.7 1138.8h0M654.7 1140.5V1141M659.1 1044.7h0M659.1 1056.1h0M659.1 1066.3h0M659.1 1074.4h0M659.1 1077.4h0M659.1 1081h0M659.1 1083.1h0M659.1 1086.3V1137.6M659.1 1142.9V1143.9M663.4 1057.5h0M663.4 1064.6h0M663.4 1067.2h0M663.4 1079.1h0M663.4 1082.4h0M663.4 1084.5h0M663.4 1085.5V1138.8M663.4 1140.1h0M663.4 1143h0M663.4 1232h0M667.8 1061.7h0M667.8 1082.5h0M667.8 1088.5V1138.4M667.8 1145.3h0M667.8 1146.7V1147.5M672.1 1072.7h0M672.1 1080.7V1080.9M672.1 1086.7V1142.3M672.1 1146.4h0M672.1 1147.7h0M676.5 1045.3h0M676.5 1064.6h0M676.5 1081.7V1082.3M676.5 1084.1h0M676.5 1088.3V1143.4M676.5 1173.9h0M680.8 1064.1h0M680.8 1068.2h0M680.8 1080.7h0M680.8 1084.6h0M680.8 1086.5V1145.2M680.8 1149.2V1149.3M680.8 1168h0M685.2 1065.3h0M685.2 1074.1V1074.2M685.2 1080.9h0M685.2 1085.3h0M685.2 1086.4V1146.5M685.2 1149.7V1150.1M689.5 1034.4h0M689.5 1051h0M689.5 1062.7h0M689.5 1064.8h0M689.5 1081.3h0M689.5 1082.5h0M689.5 1086.3V1151M689.5 1156V1156.4M693.9 1063.7h0M693.9 1082h0M693.9 1084h0M693.9 1085.8V1153.4M693.9 1154.5V1155.5M693.9 1170.5h0M698.2 1069h0M698.2 1070.2h0M698.2 1078h0M698.2 1080.8h0M698.2 1085.6h0M698.2 1087.5V1156.2M698.2 1159.6h0M702.6 1049.6h0M702.6 1066.3h0M702.6 1071.4h0M702.6 1077.7h0M702.6 1079V1079.3M702.6 1084.6V1154M702.6 1160.1h0M702.6 1163.6h0M706.9 1032h0M706.9 1039.8h0M706.9 1063.3h0M706.9 1069.9h0M706.9 1079.1h0M706.9 1082.8h0M706.9 1085.2V1158.2M706.9 1161.2V1161.7M706.9 1163.9h0M706.9 1187.6h0M711.3 1055.5h0M711.3 1079.2h0M711.3 1083.3h0M711.3 1087.1V1158.7M711.3 1159.9h0M711.3 1161.6V1162.6M711.3 1176.8h0M715.6 1081.5h0M715.6 1087.2V1159.8M715.6 1162.7V1163.5M720 1097.7V1160.9M720 1167.8h0M720 1169.9h0M724.3 1075.1h0M724.3 1095.8h0M724.3 1098.5h0M724.3 1100.8V1163.8M724.3 1169.2h0M724.3 1170.4h0M724.3 1178.8h0M728.7 1065.7h0M728.7 1096.2h0M728.7 1098.5h0M728.7 1100.9V1162.9M728.7 1165.7V1165.9M733 1073.1h0M733 1094.6h0M733 1097.5h0M733 1100.3V1165.8M733 1177.8h0M733 1270.3h0M737.4 1061.4h0M737.4 1083.9h0M737.4 1096h0M737.4 1100.5h0M737.4 1102.6h0M737.4 1104.1V1165.1M737.4 1167.3h0M737.4 1170.8h0M741.8 1040.8h0M741.8 1079h0M741.8 1099.7V1100.2M741.8 1106.6V1165.8M741.8 1171.8h0M746.1 1100.6h0M746.1 1104.4h0M746.1 1107.5V1167.2M746.1 1172.4h0M746.1 1174.3h0M746.1 1175.7h0M750.5 1073.7h0M750.5 1104.5h0M750.5 1108h0M750.5 1112.2V1172.5M750.5 1178.1V1178.5M754.8 1043.2h0M754.8 1082.9h0M754.8 1095.6h0M754.8 1106.9h0M754.8 1109.1h0M754.8 1114.5V1172.1M754.8 1174.2h0M754.8 1176.3h0M754.8 1178.2h0M759.2 1062h0M759.2 1093.7h0M759.2 1110.9h0M759.2 1115.9h0M759.2 1117.2V1176.8M759.2 1179.9h0M759.2 1181.7h0M763.5 1068.2h0M763.5 1100.5h0M763.5 1111.3h0M763.5 1115.8h0M763.5 1119V1178.6M763.5 1180.8h0M763.5 1183.8h0M763.5 1197.4h0M767.9 1086.8h0M767.9 1113.6h0M767.9 1115.7h0M767.9 1120.9V1178.6M767.9 1182.9h0M767.9 1185.3h0M772.2 1057.5h0M772.2 1088.8h0M772.2 1100.5h0M772.2 1116.5V1117.4M772.2 1122.7V1181.9M772.2 1187.3h0M772.2 1188.9h0M772.2 1200.3h0M776.6 1104.4h0M776.6 1114.6V1114.6M776.6 1122.4V1183M776.6 1189.6V1189.8M776.6 1216.9h0M780.9 1085.4h0M780.9 1115.3h0M780.9 1116.6h0M780.9 1122V1182.4M780.9 1188V1188.2M785.3 1079.6h0M785.3 1112.7h0M785.3 1118.5h0M785.3 1120.4V1182.5M785.3 1186.9h0M785.3 1191.3h0M789.6 1071.5h0M789.6 1099.5h0M789.6 1114.6h0M789.6 1116.1h0M789.6 1121.5V1183.6M789.6 1185.2h0M789.6 1192.3V1192.6M789.6 1211h0M794 1084.8h0M794 1112h0M794 1116.5h0M794 1119.1V1184.9M794 1185.9h0M794 1192.4h0M798.3 1074.1h0M798.3 1082.9h0M798.3 1101.1h0M798.3 1118.5h0M798.3 1119.8V1185M798.3 1187.2h0M798.3 1190.7h0M798.3 1203.8h0M802.7 1120.3V1120.9M802.7 1124V1183.1M802.7 1184.9h0M802.7 1190.6h0M802.7 1222.2h0M807 1103.4h0M807 1111.3h0M807 1124.8h0M807 1125.9h0M807 1130.3V1184M807 1187.5h0M807 1190.9h0M811.4 1127.9h0M811.4 1136.7h0M811.4 1139.4h0M811.4 1153.4h0M811.4 1158.8h0M811.4 1160.9V1185.9M811.4 1209.1h0M815.7 1116.2h0M815.7 1145.1h0M815.7 1149.3h0M815.7 1151.4h0M815.7 1159.3h0M815.7 1160.6h0M815.7 1163.9V1183.3M815.7 1187.7V1188.6M815.7 1208.7h0M820.1 1091.1h0M820.1 1138.8h0M820.1 1153.6h0M820.1 1163.6h0M820.1 1176.5h0M820.1 1181.7h0M820.1 1186.7h0M824.4 1112.2h0M824.4 1120.1h0M824.4 1138.7h0M824.4 1148.8h0M824.4 1153.5h0M824.4 1172.8h0M824.4 1182.5h0M824.4 1190.1h0M828.8 1073.1h0M828.8 1152.1h0M828.8 1153.3h0M828.8 1159.6h0M828.8 1168.5h0M828.8 1176.3h0M828.8 1187.1h0M828.8 1229.6h0M828.8 1240.8h0M833.1 1132.8h0M833.1 1144.5h0M833.1 1153.6h0M833.1 1176.9h0M833.1 1188.7h0M833.1 1200.3h0M837.5 1123h0M837.5 1127.9h0M837.5 1158.7h0M837.5 1177.3h0M837.5 1188.9h0M837.5 1201.3h0M841.8 1148.4h0M841.8 1155.3h0M841.8 1170.1h0M841.8 1181.7h0M841.8 1215h0M841.8 1232.6h0M846.2 1138.1h0M846.2 1168.8h0M846.2 1189.6h0M846.2 1194.4h0M846.2 1220.8h0M850.6 1113.2h0M850.6 1174.9h0M850.6 1180.7h0M850.6 1191.6h0M850.6 1205.2h0M854.9 1165.1h0M854.9 1168.9h0M854.9 1183.7h0M854.9 1192.9h0M854.9 1205.2h0M854.9 1215.9h0M854.9 1244.9h0M854.9 1259.4h0M854.9 1275.6h0M859.3 1076.4h0M859.3 1151h0M859.3 1182h0M859.3 1185.8h0M859.3 1196.4h0M859.3 1225.7h0M859.3 1232.6h0M863.6 1122.4h0M863.6 1172.9h0M863.6 1230.6h0M868 1180.7h0M872.3 1186.6h0M872.3 1200.3h0M872.3 1217.9h0M872.3 1229h0M876.7 1167.6h0M876.7 1191.5h0M876.7 1229.6h0M881 1194.4h0M881 1213.4h0M885.4 1189.5h0M889.7 1198.3h0M894.1 1204.2h0M894.1 1217.3h0M898.4 1184.6h0M907.1 1165.5h0M907.1 1212h0M911.5 1232h0M920.2 1206.2h0M928.9 1280.9h0"/>
<path class="ho" d="M665.9 1083.9h0M728.5 1084.8h0M724.6 1087.8h0M708 1150.4h0M761.8 1164.1h0M800 1175.8h0M764.7 1116.2h0M828.3 1165.1h0M753 1109.3h0M745.2 1094.6h0"/>
<path class="gr" d="M633 989.8V1299M720 989.8V1299M807 989.8V1299M894.1 989.8V1299M981.1 989.8V1299M620.6 1288.7H1012.3M620.6 1247.4H1012.3M620.6 1206H1012.3M620.6 1164.7H1012.3M620.6 1123.4H1012.3M620.6 1082.1H1012.3M620.6 1040.7H1012.3M620.6 999.4H1012.3"/>
<rect class="bx" x="618.6" y="987.8" width="394.7" height="312.2"/>
<path class="tk" d="M633 1300v9.6M720 1300v9.6M807 1300v9.6M894.1 1300v9.6M981.1 1300v9.6M618.6 1288.7h-9.6M618.6 1247.4h-9.6M618.6 1206h-9.6M618.6 1164.7h-9.6M618.6 1123.4h-9.6M618.6 1082.1h-9.6M618.6 1040.7h-9.6M618.6 999.4h-9.6"/>
<text x="633" y="1333.4">0</text>
<text x="720" y="1333.4">20</text>
<text x="807" y="1333.4">40</text>
<text x="894.1" y="1333.4">60</text>
<text x="981.1" y="1333.4">80</text>
<text transform="translate(596.3 1288.7) rotate(-90)">−4</text>
<text transform="translate(596.3 1206) rotate(-90)">−2</text>
<text transform="translate(596.3 1123.4) rotate(-90)">0</text>
<text transform="translate(596.3 1040.7) rotate(-90)">2</text>
<text x="826" y="1381.7">Changes sun/cloud</text>
<text transform="translate(559.6 1143.9) rotate(-90)">Differences in h</text>
<text class="ti" x="816" y="971.5">Konstanz</text>
<text class="co" x="998.4" y="1017.6" xml:space="preserve">Cor =  −0.42</text>
</g>
<g>
<clipPath id="c_lindenberg"><rect x="1133.3" y="987.8" width="394.7" height="312.2"/></clipPath>
<path class="pt" clip-path="url(#c_lindenberg)" d="M1147.6 1123.9h0M1147.6 1126.8h0M1147.6 1186h0M1152 1094.8V1095.2M1152 1097.7V1128.9M1152 1132.9h0M1152 1135.8h0M1156.4 1086.1V1086.4M1156.4 1088.9V1129.5M1156.4 1132.4h0M1156.4 1133.4h0M1156.4 1137.7h0M1160.7 1070h0M1160.7 1082.7h0M1160.7 1088.6V1133.5M1160.7 1137.4h0M1160.7 1141.1V1142.1M1165.1 1002.1h0M1165.1 1020.3h0M1165.1 1040.8h0M1165.1 1052.6h0M1165.1 1061.4h0M1165.1 1071.8h0M1165.1 1085.1h0M1165.1 1086.5h0M1165.1 1090V1135.2M1165.1 1139.4h0M1165.1 1141.7h0M1165.1 1143.7h0M1165.1 1160.2h0M1169.4 1047.7h0M1169.4 1080.8h0M1169.4 1083.9h0M1169.4 1086.7h0M1169.4 1087.7V1139.2M1169.4 1141.7h0M1169.4 1143.2h0M1169.4 1147.6h0M1173.8 997.4h0M1173.8 1013.8h0M1173.8 1068.1h0M1173.8 1075.5h0M1173.8 1079.8h0M1173.8 1086.9V1140.1M1173.8 1146.5V1147.1M1173.8 1148.1h0M1178.1 1054.5h0M1178.1 1068.3h0M1178.1 1077.7h0M1178.1 1082.8h0M1178.1 1086V1143.1M1178.1 1145.1h0M1178.1 1146.5h0M1182.5 1034.6h0M1182.5 1051.6h0M1182.5 1055.3h0M1182.5 1079.2V1079.3M1182.5 1083V1083.2M1182.5 1087.7V1146.2M1182.5 1152.7h0M1186.8 1019.3h0M1186.8 1028.1h0M1186.8 1063.3h0M1186.8 1079.2h0M1186.8 1080.7h0M1186.8 1084.6h0M1186.8 1087V1148M1186.8 1150.1h0M1191.2 1068.7h0M1191.2 1081h0M1191.2 1086.7V1149.7M1191.2 1154.3h0M1191.2 1157V1157.1M1195.5 1040.8h0M1195.5 1060.8V1061.7M1195.5 1079.6h0M1195.5 1085.6V1085.7M1195.5 1087.1h0M1195.5 1088.9V1149.7M1195.5 1153.1h0M1195.5 1155.4h0M1199.9 1031h0M1199.9 1068.7h0M1199.9 1078.8h0M1199.9 1080.1h0M1199.9 1086.9h0M1199.9 1088.5V1153.1M1199.9 1155.7h0M1199.9 1162.1V1162.2M1204.2 1064.3h0M1204.2 1067.1h0M1204.2 1080.4h0M1204.2 1081.7V1082.2M1204.2 1087.3h0M1204.2 1089.5V1156.4M1204.2 1158.4h0M1204.2 1162.1V1162.5M1204.2 1164.4h0M1208.6 1064h0M1208.6 1081.6h0M1208.6 1086.2h0M1208.6 1087.7V1159.3M1208.6 1163.2V1163.6M1212.9 1058.4h0M1212.9 1071.8h0M1212.9 1081.8h0M1212.9 1082.9h0M1212.9 1086.4h0M1212.9 1090.6V1160.4M1212.9 1166.5h0M1212.9 1167.9h0M1217.3 1060.2h0M1217.3 1077.6h0M1217.3 1081.7h0M1217.3 1087.8h0M1217.3 1089.2V1160M1217.3 1162.1h0M1217.3 1164.9h0M1217.3 1169h0M1221.6 1027.5h0M1221.6 1043.2h0M1221.6 1060.4h0M1221.6 1063.3h0M1221.6 1077.6h0M1221.6 1083.7h0M1221.6 1084.7h0M1221.6 1089V1161M1221.6 1167.8h0M1226 1067.7h0M1226 1074.1h0M1226 1086.3h0M1226 1088.8V1162.9M1226 1168.9h0M1230.3 1061h0M1230.3 1074.3h0M1230.3 1086.9V1087.8M1230.3 1089.9V1166M1230.3 1172.9h0M1230.3 1188h0M1234.7 1069.7h0M1234.7 1075.7h0M1234.7 1082.3h0M1234.7 1089.7V1165.3M1234.7 1173.3h0M1234.7 1185.6h0M1239 1064.7h0M1239 1068h0M1239 1080.4h0M1239 1083.1h0M1239 1085.3h0M1239 1089.2V1167.7M1239 1169h0M1239 1171.3h0M1243.4 1040.2h0M1243.4 1048.7h0M1243.4 1074.6h0M1243.4 1076h0M1243.4 1087.2h0M1243.4 1089.1V1169.4M1243.4 1175.6V1175.8M1243.4 1177h0M1247.7 1051.6h0M1247.7 1073.1h0M1247.7 1082.8h0M1247.7 1085.1V1085.8M1247.7 1089.9V1169.6M1247.7 1171.6h0M1247.7 1173.4h0M1252.1 1057.8h0M1252.1 1085.6h0M1252.1 1088.3V1088.7M1252.1 1091.1V1172.7M1252.1 1176.1h0M1252.1 1177.3h0M1252.1 1191.9h0M1256.4 1089.2V1089.8M1256.4 1092.7V1170.7M1256.4 1178.9V1179.1M1256.4 1234.1h0M1260.8 1062.9h0M1260.8 1083.6h0M1260.8 1087.6h0M1260.8 1093.1V1172.8M1260.8 1177.5h0M1260.8 1178.6h0M1260.8 1188.5h0M1265.2 1080h0M1265.2 1084.4V1085.2M1265.2 1091.9V1176.1M1265.2 1183h0M1265.2 1193.4h0M1269.5 1036.9h0M1269.5 1054.5h0M1269.5 1069.8h0M1269.5 1088.9h0M1269.5 1091.5V1176.1M1269.5 1183.7V1184.1M1273.9 1039.3h0M1273.9 1088.2h0M1273.9 1090.9h0M1273.9 1092.7V1179.2M1273.9 1180.9V1181.1M1273.9 1183.5h0M1278.2 1050.6h0M1278.2 1081.9h0M1278.2 1090h0M1278.2 1092.3V1180.8M1278.2 1182.2h0M1278.2 1185.6h0M1278.2 1189h0M1278.2 1198.3h0M1282.6 1087.1V1088.1M1282.6 1093.9V1182.5M1282.6 1189.2h0M1282.6 1190.2h0M1286.9 1068.8h0M1286.9 1082.5h0M1286.9 1086.3h0M1286.9 1087.4h0M1286.9 1090.8h0M1286.9 1094.6V1185.4M1286.9 1189.5h0M1286.9 1190.9V1191.8M1286.9 1198.9h0M1291.3 1083.9h0M1291.3 1096.2h0M1291.3 1097.8h0M1291.3 1099V1186.1M1291.3 1188.9h0M1295.6 1088.8h0M1295.6 1098.9h0M1295.6 1103h0M1295.6 1105.5V1185.9M1295.6 1192.2V1192.3M1295.6 1194.9h0M1300 1101.3h0M1300 1102.5h0M1300 1107.1V1188.8M1300 1190.4V1190.5M1300 1194.1h0M1304.3 1059h0M1304.3 1103.7h0M1304.3 1109.4h0M1304.3 1110.7V1195.5M1304.3 1198h0M1304.3 1200h0M1308.7 1098.5h0M1308.7 1111.4h0M1308.7 1120.8h0M1308.7 1127.1h0M1308.7 1136.3h0M1308.7 1142.6h0M1308.7 1150.5h0M1308.7 1159.2h0M1308.7 1170.4h0M1308.7 1178h0M1308.7 1187.7h0M1308.7 1197.9h0M1308.7 1199.3h0M1313 1100.5h0M1313 1107.8h0M1313 1118.9h0M1313 1132.2h0M1313 1138.4h0M1313 1151.2h0M1313 1159.2h0M1313 1171h0M1313 1172.6h0M1313 1190.4h0M1313 1198.1h0M1313 1207.3h0M1313 1222.8h0M1317.4 1111.3h0M1317.4 1123.8h0M1317.4 1129.6h0M1317.4 1139.1h0M1317.4 1146.1h0M1317.4 1160.7h0M1317.4 1168h0M1317.4 1175.5h0M1317.4 1188.9h0M1317.4 1196.6h0M1317.4 1206h0M1321.7 1097.6h0M1321.7 1116.3h0M1321.7 1126.3h0M1321.7 1139.5h0M1321.7 1147.4h0M1321.7 1154.9h0M1321.7 1169.4h0M1321.7 1177.9h0M1321.7 1187.5h0M1321.7 1195.6h0M1321.7 1209.7h0M1326.1 1088.4h0M1326.1 1115.3h0M1326.1 1127.1h0M1326.1 1138.3h0M1326.1 1151.3h0M1326.1 1166.2h0M1326.1 1168.7h0M1326.1 1180.2h0M1326.1 1200.2h0M1326.1 1213.3h0M1330.4 1105.4h0M1330.4 1123h0M1330.4 1136.7h0M1330.4 1139h0M1330.4 1151.3h0M1330.4 1173.1h0M1330.4 1176.5h0M1330.4 1198.9h0M1330.4 1202.6h0M1334.8 1005.2h0M1334.8 1083.9h0M1334.8 1099.9h0M1334.8 1116.6h0M1334.8 1119.1h0M1334.8 1135.3h0M1334.8 1136.9h0M1334.8 1144.4h0M1334.8 1145.4h0M1334.8 1152.3h0M1334.8 1153.8h0M1334.8 1165.7h0M1334.8 1175.5h0M1334.8 1187.2V1188M1334.8 1191.8h0M1334.8 1200h0M1334.8 1201.6h0M1334.8 1205h0M1334.8 1225.7h0M1334.8 1236.9h0M1339.1 1105.4h0M1339.1 1125.4h0M1339.1 1136.9h0M1339.1 1154.4h0M1339.1 1163.2h0M1339.1 1171.5h0M1339.1 1183.3h0M1339.1 1196.3h0M1339.1 1206.7h0M1343.5 1095.2h0M1343.5 1124h0M1343.5 1135h0M1343.5 1156.5h0M1343.5 1167.8h0M1343.5 1174.7h0M1343.5 1190.3h0M1343.5 1199.4h0M1343.5 1212.8h0M1343.5 1227.7h0M1343.5 1236.5h0M1347.8 1086.8h0M1347.8 1111.7h0M1347.8 1129h0M1347.8 1144.1h0M1347.8 1154.7h0M1347.8 1168.5h0M1347.8 1169.8h0M1347.8 1182.5h0M1347.8 1201.3h0M1347.8 1205h0M1347.8 1214h0M1352.2 1040.2h0M1352.2 1087.8h0M1352.2 1137.3h0M1352.2 1147.8h0M1352.2 1164h0M1352.2 1175.6h0M1352.2 1187.3h0M1352.2 1196.5h0M1352.2 1203.3h0M1352.2 1255.1h0M1356.5 1117.1h0M1356.5 1140.6h0M1356.5 1149.1h0M1356.5 1157.8h0M1356.5 1174.3h0M1356.5 1185h0M1356.5 1193.4h0M1356.5 1204.9h0M1356.5 1220.8h0M1356.5 1234.5h0M1356.5 1241.4h0M1360.9 1141.3h0M1360.9 1156.9h0M1360.9 1160.9h0M1360.9 1175.4h0M1360.9 1190.3h0M1360.9 1196.6h0M1360.9 1204.6h0M1360.9 1215h0M1360.9 1244.3h0M1365.2 1089.7h0M1365.2 1113.2h0M1365.2 1147.2h0M1365.2 1165.1h0M1365.2 1168.6h0M1365.2 1179.9h0M1365.2 1201.6h0M1365.2 1205.6h0M1365.2 1229.6h0M1369.6 1102.5h0M1369.6 1121h0M1369.6 1152.8h0M1369.6 1163.4h0M1369.6 1167.8h0M1369.6 1178.9h0M1369.6 1190.1h0M1369.6 1197.2h0M1369.6 1213.6h0M1369.6 1221.8h0M1374 1133.8h0M1374 1149.7h0M1374 1161.7h0M1374 1167.8h0M1374 1180.8h0M1374 1192h0M1374 1203.5h0M1374 1213.6h0M1374 1235.5h0M1374 1252.1h0M1374 1260.9h0M1378.3 1118.7h0M1378.3 1155.8h0M1378.3 1167h0M1378.3 1180.8h0M1378.3 1185.1h0M1378.3 1200.2h0M1378.3 1210.6h0M1378.3 1225.7h0M1382.7 1135.7h0M1382.7 1152.2h0M1382.7 1165.7h0M1382.7 1173.1h0M1382.7 1178.4h0M1382.7 1192.4h0M1382.7 1204.2h0M1382.7 1212.6h0M1387 1132.8h0M1387 1154.1h0M1387 1167.3h0M1387 1176.3h0M1387 1184.7h0M1387 1196.1h0M1387 1202.7h0M1387 1216.8h0M1387 1221.8h0M1387 1247.8h0M1391.4 1087.4h0M1391.4 1118.7h0M1391.4 1156.5h0M1391.4 1169.1h0M1391.4 1178.4h0M1391.4 1189.3h0M1391.4 1196.5h0M1391.4 1214h0M1391.4 1240.4h0M1395.7 1150.4h0M1395.7 1162.3h0M1395.7 1171.2h0M1395.7 1175.3h0M1395.7 1192.8h0M1395.7 1199.1h0M1395.7 1216.8h0M1395.7 1224.7h0M1395.7 1242.4h0M1400.1 1137.7h0M1400.1 1156.3h0M1400.1 1162.7h0M1400.1 1168.2h0M1400.1 1182h0M1400.1 1191.9h0M1400.1 1209.9h0M1400.1 1225.7h0M1400.1 1237.5h0M1400.1 1258.6h0M1404.4 1127.3h0M1404.4 1168.7h0M1404.4 1170.3h0M1404.4 1189.9h0M1404.4 1199.7h0M1404.4 1207.6h0M1404.4 1215h0M1404.4 1233.5h0M1408.8 1134.7h0M1408.8 1163.1h0M1408.8 1167.7h0M1408.8 1180.4h0M1408.8 1188.5h0M1408.8 1202.4h0M1408.8 1238.8h0M1413.1 1148.4h0M1413.1 1177.8h0M1413.1 1180.6h0M1413.1 1189.2h0M1413.1 1201h0M1417.5 1189.5h0M1417.5 1192.7h0M1417.5 1202.2h0M1421.8 1138.7h0M1421.8 1149.4h0M1421.8 1218.9h0M1426.2 1112.6h0M1426.2 1172.9h0M1426.2 1207.1h0M1426.2 1244.3h0M1426.2 1255.1h0M1426.2 1261.9h0M1426.2 1268.8h0M1430.5 1199.3h0M1434.9 1155.3h0M1434.9 1195.4h0M1434.9 1215.9h0M1434.9 1220.8h0M1434.9 1233.5h0M1434.9 1238.4h0M1434.9 1248.2h0M1434.9 1283h0M1439.2 1139.2h0M1439.2 1187h0M1439.2 1193.4h0M1439.2 1200.3h0M1439.2 1212h0M1443.6 1227.1h0M1443.6 1276.6h0M1447.9 1094.6h0M1447.9 1232.6h0M1447.9 1247.8h0M1452.3 1136.3h0M1452.3 1238.8h0M1465.3 1213h0M1487.1 1215h0M1487.1 1222.2h0"/>
<path class="ho" d="M1310.1 1110.3h0M1315 1113.2h0M1338.4 1138.7h0M1341.4 1128.9h0M1354.1 1183.7h0M1360 1187.6h0M1385.4 1174.9h0M1367.8 1170h0M1325.7 1202.2h0M1403 1207.1h0M1284.6 1104.4h0M1394.2 1185.6h0M1367.8 1213h0M1308.1 1142.6h0"/>
<path class="gr" d="M1147.6 989.8V1299M1234.7 989.8V1299M1321.7 989.8V1299M1408.8 989.8V1299M1495.8 989.8V1299M1135.3 1288.7H1527M1135.3 1247.4H1527M1135.3 1206H1527M1135.3 1164.7H1527M1135.3 1123.4H1527M1135.3 1082.1H1527M1135.3 1040.7H1527M1135.3 999.4H1527"/>
<rect class="bx" x="1133.3" y="987.8" width="394.7" height="312.2"/>
<path class="tk" d="M1147.6 1300v9.6M1234.7 1300v9.6M1321.7 1300v9.6M1408.8 1300v9.6M1495.8 1300v9.6M1133.3 1288.7h-9.6M1133.3 1247.4h-9.6M1133.3 1206h-9.6M1133.3 1164.7h-9.6M1133.3 1123.4h-9.6M1133.3 1082.1h-9.6M1133.3 1040.7h-9.6M1133.3 999.4h-9.6"/>
<text x="1147.6" y="1333.4">0</text>
<text x="1234.7" y="1333.4">20</text>
<text x="1321.7" y="1333.4">40</text>
<text x="1408.8" y="1333.4">60</text>
<text x="1495.8" y="1333.4">80</text>
<text transform="translate(1111 1288.7) rotate(-90)">−4</text>
<text transform="translate(1111 1206) rotate(-90)">−2</text>
<text transform="translate(1111 1123.4) rotate(-90)">0</text>
<text transform="translate(1111 1040.7) rotate(-90)">2</text>
<text x="1337" y="1380.1">Changes sun/cloud</text>
<text transform="translate(1074.3 1143.9) rotate(-90)">Differences in h</text>
<text class="ti" x="1330.6" y="971.5">Lindenberg</text>
<text class="co" x="1505.1" y="1017.6" xml:space="preserve">Cor =  −0.5</text>
</g>
<g>
<clipPath id="c_potsdam"><rect x="1647.8" y="987.8" width="394.7" height="312.2"/></clipPath>
<path class="pt" clip-path="url(#c_potsdam)" d="M1662.1 1124.9V1125.4M1666.5 1117.7V1118.3M1666.5 1121.4h0M1666.5 1122.8V1125.9M1666.5 1128.6h0M1666.5 1133.6h0M1670.9 1108.5h0M1670.9 1110.2h0M1670.9 1111.8V1128.2M1670.9 1133.1h0M1670.9 1134.3h0M1675.2 1057.5h0M1675.2 1063.3h0M1675.2 1070.2h0M1675.2 1092.8h0M1675.2 1094.3h0M1675.2 1096.1V1132.8M1675.2 1133.9h0M1675.2 1136.2h0M1679.6 1031h0M1679.6 1087.7V1087.8M1679.6 1091.5h0M1679.6 1093.2V1136.8M1679.6 1139.6h0M1679.6 1142.9h0M1679.6 1144.5h0M1683.9 1085.3h0M1683.9 1086.8h0M1683.9 1088.1h0M1683.9 1091.5V1140.3M1683.9 1141.4h0M1683.9 1147.5h0M1688.3 1045.3h0M1688.3 1080.7h0M1688.3 1083.8h0M1688.3 1087.4V1142.6M1688.3 1148.5V1149.2M1692.6 1070.2h0M1692.6 1081.8h0M1692.6 1085.2h0M1692.6 1087V1143M1692.6 1147.1h0M1692.6 1151.4h0M1697 1067.2h0M1697 1081.9V1144.9M1697 1147.8h0M1697 1150.4V1151.4M1701.3 1076.4h0M1701.3 1082.1V1147.4M1701.3 1151.4V1152.4M1701.3 1154.2V1155.1M1705.7 1071.2h0M1705.7 1075.9h0M1705.7 1078.7h0M1705.7 1082.3V1149.7M1705.7 1151.9h0M1705.7 1153.6h0M1710 1073.6h0M1710 1075.9h0M1710 1081.5V1149.8M1710 1157.4h0M1710 1159V1159.6M1714.4 1008.9h0M1714.4 1046.3h0M1714.4 1067.2h0M1714.4 1075.3h0M1714.4 1077.2h0M1714.4 1082V1153.2M1714.4 1157h0M1714.4 1158.5h0M1718.7 1049h0M1718.7 1064.7h0M1718.7 1073.6h0M1718.7 1075.4h0M1718.7 1080.1V1155M1718.7 1159.7V1160.1M1723.1 1072.9V1073.2M1723.1 1079.2V1156.7M1723.1 1162.1h0M1727.4 1035.9h0M1727.4 1064.7h0M1727.4 1074.6h0M1727.4 1076.9h0M1727.4 1081.1V1156.9M1727.4 1161.5h0M1727.4 1164.1V1164.5M1727.4 1166.3h0M1731.8 1076.2h0M1731.8 1077.5h0M1731.8 1078.8V1160.9M1731.8 1164.8h0M1731.8 1169.4h0M1736.1 1026.5h0M1736.1 1056.5h0M1736.1 1071.1h0M1736.1 1077.6V1164.3M1736.1 1165.9h0M1736.1 1171.9V1172.4M1740.5 1054.9h0M1740.5 1071h0M1740.5 1072.7h0M1740.5 1079.8V1166.8M1740.5 1167.9h0M1740.5 1173.3h0M1744.8 1068.2h0M1744.8 1071h0M1744.8 1078.1V1168.1M1744.8 1169.4V1169.6M1744.8 1185h0M1749.2 1035.9h0M1749.2 1063.3h0M1749.2 1073.9h0M1749.2 1077.8h0M1749.2 1079.8V1171.4M1749.2 1173.2h0M1753.5 1027.1h0M1753.5 1074.2V1075.1M1753.5 1077.6h0M1753.5 1078.9V1170.6M1753.5 1179.2h0M1757.9 1054.5h0M1757.9 1063.3h0M1757.9 1073.2h0M1757.9 1074.6h0M1757.9 1081.7V1172.6M1757.9 1174.6V1175M1757.9 1189.1h0M1762.2 1076.1h0M1762.2 1081.8V1172.5M1762.2 1177.7h0M1762.2 1179.9h0M1762.2 1181.7h0M1766.6 1041.2h0M1766.6 1076.3h0M1766.6 1082.5h0M1766.6 1084.2V1172.6M1766.6 1180.1V1180.8M1766.6 1190.5h0M1770.9 1059.4h0M1770.9 1068.2h0M1770.9 1078.5h0M1770.9 1080.1h0M1770.9 1083.7V1174M1770.9 1176.9h0M1770.9 1182.1h0M1775.3 1076.9h0M1775.3 1079.3h0M1775.3 1081.8V1177.2M1775.3 1179.4h0M1775.3 1183.1h0M1775.3 1205.6h0M1779.7 1044.7h0M1779.7 1053.5h0M1779.7 1079.2h0M1779.7 1081.1h0M1779.7 1083.2V1178.9M1779.7 1185.1V1186M1784 1035.9h0M1784 1054.5h0M1784 1070.2h0M1784 1074.7h0M1784 1080h0M1784 1083.5V1181.1M1784 1184.9V1185.6M1784 1187.2h0M1788.4 1032.6h0M1788.4 1071.2h0M1788.4 1078.4h0M1788.4 1082.8V1181.8M1788.4 1183h0M1788.4 1188.2h0M1792.7 1053.2h0M1792.7 1078.5V1079.4M1792.7 1087.7V1186.4M1792.7 1187.4h0M1792.7 1191.7h0M1792.7 1204.2h0M1797.1 1079.7h0M1797.1 1081.2h0M1797.1 1086.4V1188.9M1797.1 1194.4h0M1797.1 1209.1h0M1801.4 1026.5h0M1801.4 1061.4h0M1801.4 1084.1V1084.6M1801.4 1088.3V1190.7M1801.4 1195.7V1195.9M1801.4 1200.3h0M1805.8 1083.5V1083.9M1805.8 1089.7V1190.1M1805.8 1191.7h0M1805.8 1199.5h0M1810.1 1085.7h0M1810.1 1087.8V1087.9M1810.1 1091V1191.9M1810.1 1194.6V1195.1M1814.5 1083.3h0M1814.5 1089.4h0M1814.5 1091.1V1192.8M1814.5 1197.4h0M1818.8 1089.3V1090.2M1818.8 1092V1193.5M1818.8 1195.8V1196.4M1823.2 1077h0M1823.2 1085.9h0M1823.2 1091.2V1193.4M1823.2 1194.5V1194.8M1823.2 1197h0M1823.2 1212h0M1827.5 1075.1h0M1827.5 1090.4h0M1827.5 1101.3h0M1827.5 1107h0M1827.5 1115.6h0M1827.5 1124.3h0M1827.5 1131h0M1827.5 1138.6h0M1827.5 1145.3h0M1827.5 1158.7h0M1827.5 1165.6h0M1827.5 1171.6h0M1827.5 1184.4h0M1827.5 1186h0M1827.5 1195.5h0M1831.9 1099h0M1831.9 1107.3h0M1831.9 1117.5h0M1831.9 1128.4h0M1831.9 1137.3h0M1831.9 1141.3h0M1831.9 1150h0M1831.9 1158.1h0M1831.9 1171.1h0M1831.9 1179.6h0M1831.9 1188.3h0M1831.9 1201.5h0M1831.9 1209.1h0M1831.9 1216.9h0M1836.2 1049.6h0M1836.2 1102.7h0M1836.2 1117.1h0M1836.2 1127.7h0M1836.2 1132.1h0M1836.2 1142.9h0M1836.2 1159.1h0M1836.2 1163.2h0M1836.2 1178.4h0M1836.2 1189h0M1836.2 1193.1h0M1840.6 1068.6h0M1840.6 1079h0M1840.6 1099.2h0M1840.6 1114.9h0M1840.6 1128h0M1840.6 1134.3h0M1840.6 1147h0M1840.6 1156.9h0M1840.6 1166.5h0M1840.6 1182.1h0M1840.6 1190.3h0M1840.6 1197.3h0M1844.9 1051.2h0M1844.9 1104h0M1844.9 1118.2h0M1844.9 1121.5h0M1844.9 1143.6h0M1844.9 1152.1h0M1844.9 1168.4h0M1844.9 1178.3h0M1844.9 1184.7h0M1844.9 1193h0M1849.3 1075.1h0M1849.3 1080h0M1849.3 1107.8h0M1849.3 1114.4h0M1849.3 1131.1h0M1849.3 1147h0M1849.3 1164h0M1849.3 1174.1h0M1849.3 1190.9h0M1849.3 1198.4h0M1849.3 1213h0M1849.3 1220.8h0M1849.3 1255.5h0M1853.6 1066.8h0M1853.6 1109.9h0M1853.6 1112.7h0M1853.6 1117.3h0M1853.6 1124.6h0M1853.6 1126.9h0M1853.6 1130.4h0M1853.6 1142.9h0M1853.6 1149h0M1853.6 1154V1154.9M1853.6 1166h0M1853.6 1167.4h0M1853.6 1174.5V1175M1853.6 1180h0M1853.6 1186.1h0M1853.6 1196.5h0M1853.6 1197.8h0M1858 1085.2h0M1858 1114.3h0M1858 1126.7h0M1858 1127.8h0M1858 1144.5h0M1858 1147.7h0M1858 1164.6h0M1858 1168.6h0M1858 1184.5h0M1858 1193.5h0M1858 1198.5h0M1858 1220.8h0M1862.3 1102.5h0M1862.3 1107.4h0M1862.3 1113.1h0M1862.3 1128.6h0M1862.3 1131h0M1862.3 1147.3h0M1862.3 1155.1h0M1862.3 1162.2h0M1862.3 1179.3h0M1862.3 1185.2h0M1862.3 1193.7h0M1862.3 1206.6h0M1862.3 1225.7h0M1866.7 1093.7h0M1866.7 1120.4h0M1866.7 1131.3h0M1866.7 1138.3h0M1866.7 1152.3h0M1866.7 1162.3h0M1866.7 1163.8h0M1866.7 1182.3h0M1866.7 1189.4h0M1866.7 1200h0M1866.7 1212.8h0M1866.7 1246.9h0M1871 1119.7h0M1871 1128.7h0M1871 1142.4h0M1871 1152.6h0M1871 1169.6h0M1871 1171h0M1871 1187.7h0M1871 1201.5h0M1871 1210.4h0M1871 1216.9h0M1875.4 1083.3h0M1875.4 1111.3h0M1875.4 1120.5h0M1875.4 1137.2h0M1875.4 1145.7h0M1875.4 1155h0M1875.4 1162.9h0M1875.4 1170.9h0M1875.4 1180.3h0M1875.4 1194.3h0M1875.4 1197.7h0M1875.4 1210.2h0M1875.4 1225.7h0M1879.8 1103.4h0M1879.8 1125.1h0M1879.8 1139.6h0M1879.8 1147h0M1879.8 1152.4h0M1879.8 1164.8h0M1879.8 1171.3h0M1879.8 1185.2h0M1879.8 1191h0M1879.8 1206.7h0M1879.8 1210.3h0M1879.8 1216.9h0M1884.1 1115.2h0M1884.1 1126.6h0M1884.1 1135.2h0M1884.1 1144.4h0M1884.1 1161.9h0M1884.1 1167.7h0M1884.1 1181.7h0M1884.1 1194.1h0M1884.1 1204.3h0M1884.1 1212h0M1884.1 1222.8h0M1888.5 1078.6h0M1888.5 1098.5h0M1888.5 1128.2h0M1888.5 1140.2h0M1888.5 1155.3h0M1888.5 1162.8h0M1888.5 1173.6h0M1888.5 1181h0M1888.5 1187h0M1888.5 1200.2h0M1888.5 1207.5h0M1888.5 1216.9h0M1892.8 1101.5h0M1892.8 1123h0M1892.8 1137.4h0M1892.8 1149.9h0M1892.8 1159.3h0M1892.8 1163h0M1892.8 1177.7h0M1892.8 1183.9h0M1892.8 1193.1h0M1892.8 1213.5h0M1892.8 1225.7h0M1892.8 1276h0M1897.2 1110.3h0M1897.2 1137.4h0M1897.2 1149.3h0M1897.2 1157.1h0M1897.2 1161.9h0M1897.2 1176.4h0M1897.2 1183.4h0M1897.2 1193.6h0M1897.2 1197.7h0M1897.2 1209.2h0M1897.2 1259h0M1901.5 1120.1h0M1901.5 1137.3h0M1901.5 1143.9h0M1901.5 1156.4h0M1901.5 1164.5h0M1901.5 1177h0M1901.5 1191.5h0M1901.5 1195.2h0M1901.5 1207.4h0M1901.5 1236.1h0M1905.9 1129.9h0M1905.9 1146.9h0M1905.9 1148.4h0M1905.9 1159.9h0M1905.9 1178.1h0M1905.9 1188h0M1905.9 1191.6h0M1905.9 1204.5h0M1905.9 1234.5h0M1910.2 1136.7h0M1910.2 1141.2h0M1910.2 1154.2h0M1910.2 1173.2h0M1910.2 1185.6h0M1910.2 1196h0M1910.2 1201.4h0M1910.2 1227.7h0M1910.2 1240.4h0M1914.6 1107.4h0M1914.6 1154.6h0M1914.6 1158.8h0M1914.6 1175.7h0M1914.6 1179.4h0M1914.6 1193.8h0M1914.6 1203h0M1914.6 1216.3h0M1918.9 1128.9h0M1918.9 1144.5h0M1918.9 1152.6h0M1918.9 1166.8h0M1918.9 1180.6h0M1918.9 1186.9h0M1918.9 1197.9h0M1923.3 1150.4h0M1923.3 1158.2h0M1923.3 1170h0M1923.3 1171.7h0M1923.3 1176.8h0M1923.3 1178h0M1923.3 1190.4h0M1923.3 1197.6h0M1923.3 1206.2h0M1923.3 1227.7h0M1923.3 1288.3h0M1927.6 1108.7h0M1927.6 1129.9h0M1927.6 1139.6h0M1927.6 1150.4h0M1927.6 1173.9h0M1927.6 1197.4h0M1927.6 1220.8h0M1927.6 1249.6h0M1932 1101.9h0M1932 1160.2h0M1932 1188.5h0M1932 1265.8h0M1936.3 1165.1h0M1936.3 1176.8h0M1936.3 1187.6h0M1936.3 1206.2h0M1936.3 1217.9h0M1940.7 1067.6h0M1940.7 1134.7h0M1940.7 1215h0M1940.7 1254.5h0M1945 1159.6h0M1945 1171.9h0M1945 1187.6h0M1945 1200.3h0M1945 1211h0M1945 1231.2h0M1949.4 1150.4h0M1949.4 1168h0M1953.7 1079.4h0M1953.7 1170h0M1953.7 1190.5h0M1958.1 1222.2h0M1962.4 1210.7h0M1962.4 1265.8h0M1966.8 1103h0M1966.8 1152.4h0M1966.8 1156.3h0M1966.8 1163.1h0M1966.8 1197h0M1966.8 1216.9h0M1966.8 1239.4h0M1971.1 1221.8h0M1971.1 1227.3h0M1971.1 1253.1h0M1975.5 1211.6h0M1979.8 1177.8h0M1988.5 1165.1h0M2001.6 1160.2h0M2006 1034h0"/>
<path class="ho" d="M1768.3 1077h0M1805.5 1085.8h0M1810.4 1088.8h0M1820.2 1105.4h0M1843.7 1117.1h0M1830.9 1094.6h0M1794.7 1174.9h0M1826 1184.6h0M1732.1 1161.2h0M1754.6 1160.2h0M1840.7 1191.5h0"/>
<path class="gr" d="M1662.1 989.8V1299M1749.2 989.8V1299M1836.2 989.8V1299M1923.3 989.8V1299M2010.3 989.8V1299M1649.8 1288.7H2041.5M1649.8 1247.4H2041.5M1649.8 1206H2041.5M1649.8 1164.7H2041.5M1649.8 1123.4H2041.5M1649.8 1082.1H2041.5M1649.8 1040.7H2041.5M1649.8 999.4H2041.5"/>
<rect class="bx" x="1647.8" y="987.8" width="394.7" height="312.2"/>
<path class="tk" d="M1662.1 1300v9.6M1749.2 1300v9.6M1836.2 1300v9.6M1923.3 1300v9.6M2010.3 1300v9.6M1647.8 1288.7h-9.6M1647.8 1247.4h-9.6M1647.8 1206h-9.6M1647.8 1164.7h-9.6M1647.8 1123.4h-9.6M1647.8 1082.1h-9.6M1647.8 1040.7h-9.6M1647.8 999.4h-9.6"/>
<text x="1662.1" y="1333.4">0</text>
<text x="1749.2" y="1333.4">20</text>
<text x="1836.2" y="1333.4">40</text>
<text x="1923.3" y="1333.4">60</text>
<text x="2010.3" y="1333.4">80</text>
<text transform="translate(1625.5 1288.7) rotate(-90)">−4</text>
<text transform="translate(1625.5 1206) rotate(-90)">−2</text>
<text transform="translate(1625.5 1123.4) rotate(-90)">0</text>
<text transform="translate(1625.5 1040.7) rotate(-90)">2</text>
<text x="1851" y="1380.1">Changes sun/cloud</text>
<text transform="translate(1588.8 1143.9) rotate(-90)">Differences in h</text>
<text class="ti" x="1845.1" y="971.5">Potsdam</text>
<text class="co" x="2027.6" y="1017.6" xml:space="preserve">Cor =  −0.42</text>
</g>
<g>
<clipPath id="c_schleswig"><rect x="876.1" y="1451.2" width="394.7" height="312.2"/></clipPath>
<path class="pt" clip-path="url(#c_schleswig)" d="M890.5 1587.1h0M890.5 1591.5h0M890.5 1603.6h0M890.5 1628.7h0M890.5 1658h0M890.5 1673.7h0M894.8 1580h0M894.8 1581.2h0M894.8 1584.4V1593.3M894.8 1601V1601.1M899.2 1536.2h0M899.2 1542.9h0M899.2 1545V1597.3M899.2 1600.5V1601.3M899.2 1603h0M899.2 1612.4h0M903.5 1532h0M903.5 1534.1h0M903.5 1537.4V1603.4M903.5 1608.7h0M903.5 1641.2h0M907.9 1476.4h0M907.9 1487.2h0M907.9 1492.1h0M907.9 1509.7h0M907.9 1519.5h0M907.9 1526.3h0M907.9 1530.7h0M907.9 1535V1535.6M907.9 1537.1V1607.5M907.9 1609.7h0M907.9 1622.2h0M912.2 1449.4h0M912.2 1536.5h0M912.2 1537.7h0M912.2 1539V1609.5M912.2 1617h0M912.2 1630h0M916.6 1459.8h0M916.6 1481.3h0M916.6 1531.7h0M916.6 1536.8V1611.7M916.6 1615.6V1616.5M916.6 1619.3V1619.5M920.9 1510.7h0M920.9 1521.4h0M920.9 1530.2h0M920.9 1535.8h0M920.9 1537V1614.5M920.9 1616.3h0M920.9 1618.5h0M925.3 1499.9h0M925.3 1514.6h0M925.3 1538V1538.9M925.3 1540.3V1616.1M925.3 1622.7h0M925.3 1644.3h0M929.6 1497h0M929.6 1515.6h0M929.6 1531.2h0M929.6 1536.3h0M929.6 1538.6h0M929.6 1539.7V1616.3M929.6 1620.9h0M929.6 1624.4h0M929.6 1688.7h0M929.6 1693.6h0M934 1534.1h0M934 1540.3V1618.1M934 1620.4h0M934 1623.3V1624.2M938.3 1470.2h0M938.3 1486.2h0M938.3 1521h0M938.3 1535.2h0M938.3 1536.5h0M938.3 1541.8V1621.4M938.3 1630h0M942.7 1480.3h0M942.7 1534.2h0M942.7 1536.1h0M942.7 1542.6V1620.5M942.7 1621.8h0M942.7 1624.5h0M947 1495h0M947 1536.2h0M947 1537.3h0M947 1542.8h0M947 1544.1V1623.4M947 1625.9h0M947 1627.5h0M951.4 1526.9h0M951.4 1535.7h0M951.4 1539.7h0M951.4 1541.7h0M951.4 1544.7V1624M951.4 1626.1h0M951.4 1630h0M955.7 1502.3h0M955.7 1530.2h0M955.7 1539.5h0M955.7 1541h0M955.7 1543.3V1624.8M955.7 1628.5h0M955.7 1632.5h0M960.1 1524.4h0M960.1 1538.3h0M960.1 1540.3V1540.6M960.1 1546.9V1628.5M960.1 1632.5V1633.2M960.1 1634.5h0M960.1 1636.9h0M964.4 1507.7h0M964.4 1521.4h0M964.4 1539.8h0M964.4 1545.7V1631.3M964.4 1634.3h0M964.4 1635.8h0M964.4 1640h0M964.4 1650.6h0M968.8 1460.2h0M968.8 1511.7h0M968.8 1542.6V1636M968.8 1638h0M968.8 1640.2h0M968.8 1642.6h0M968.8 1661.3h0M968.8 1723.4h0M973.1 1471h0M973.1 1515.2h0M973.1 1535.1h0M973.1 1538.3h0M973.1 1541.6V1636M973.1 1639h0M973.1 1643.6h0M977.5 1495h0M977.5 1498.9h0M977.5 1502.3h0M977.5 1532.3h0M977.5 1537.8h0M977.5 1540.8V1638.5M977.5 1643.7V1644.3M977.5 1662.3h0M977.5 1669.2h0M981.8 1531.2h0M981.8 1532.5h0M981.8 1535.1h0M981.8 1540.1V1639.5M981.8 1645h0M981.8 1648.8h0M981.8 1653.5h0M981.8 1657.4h0M986.2 1533.1h0M986.2 1537.1V1642.5M986.2 1644.6h0M986.2 1646.2h0M990.5 1528.3V1528.8M990.5 1533.4h0M990.5 1537.4V1639.9M990.5 1641.8h0M990.5 1644.6h0M990.5 1674h0M990.5 1678.9h0M994.9 1502.3h0M994.9 1528.3h0M994.9 1529.9h0M994.9 1536.5V1641.6M994.9 1645.4h0M994.9 1650h0M994.9 1651.5h0M999.2 1529.3h0M999.2 1531.4V1532.2M999.2 1537.8V1646.7M999.2 1649.4h0M999.2 1665.2h0M1003.6 1526.3h0M1003.6 1536.3V1536.3M1003.6 1542.1V1648.1M1003.6 1649.8h0M1003.6 1656.6h0M1003.6 1672.1h0M1008 1515.2h0M1008 1538.9h0M1008 1545.1h0M1008 1546.3V1651.9M1008 1656.3h0M1008 1658.3h0M1008 1663.3h0M1012.3 1476.4h0M1012.3 1524.4h0M1012.3 1545.3h0M1012.3 1546.9h0M1012.3 1547.9V1655.4M1012.3 1659.6h0M1012.3 1663.2h0M1016.7 1517.5h0M1016.7 1543.6h0M1016.7 1548.4h0M1016.7 1549.9V1656.6M1016.7 1660.6h0M1016.7 1663.1V1663.9M1016.7 1673.1h0M1021 1447.1h0M1021 1532.2h0M1021 1544.2h0M1021 1549h0M1021 1550.2V1657.9M1021 1661.6h0M1021 1663.8h0M1025.4 1539h0M1025.4 1547.9h0M1025.4 1550h0M1025.4 1551.2V1659.5M1025.4 1664.5h0M1025.4 1667.9h0M1025.4 1688.7h0M1029.7 1544.7h0M1029.7 1549.5h0M1029.7 1553.1V1661.3M1029.7 1664.4h0M1029.7 1667.8V1668.5M1034.1 1504.4h0M1034.1 1541h0M1034.1 1551V1551.7M1034.1 1553.1h0M1034.1 1555.3V1663.6M1034.1 1664.9h0M1034.1 1677h0M1034.1 1694.6h0M1038.4 1548.6h0M1038.4 1550.9h0M1038.4 1553h0M1038.4 1555.9V1666.6M1038.4 1669.5h0M1038.4 1671.8h0M1038.4 1673h0M1038.4 1691.7h0M1038.4 1742.5h0M1042.8 1542h0M1042.8 1551.3h0M1042.8 1554.1h0M1042.8 1558.4V1669.8M1042.8 1675.1h0M1042.8 1677.2h0M1042.8 1678.5h0M1047.1 1552.7h0M1047.1 1557.6h0M1047.1 1561.6V1676.4M1047.1 1681.5V1681.5M1047.1 1692.6h0M1047.1 1749.4h0M1051.5 1525.9h0M1051.5 1564.5h0M1051.5 1566.6h0M1051.5 1569V1682.9M1051.5 1687.8h0M1051.5 1741.9h0M1055.8 1507.7h0M1055.8 1541.4h0M1055.8 1564.7h0M1055.8 1570.1V1687.4M1055.8 1692.3V1692.6M1060.2 1541.4h0M1060.2 1550.8h0M1060.2 1557.6h0M1060.2 1569.8h0M1060.2 1571.9h0M1060.2 1574V1690.5M1060.2 1692.3h0M1060.2 1694.8h0M1060.2 1696.5V1697.1M1064.5 1568.8h0M1064.5 1578.3V1694.7M1064.5 1698.3V1699.3M1064.5 1701.4h0M1064.5 1703.3h0M1068.9 1542.6h0M1068.9 1572.3h0M1068.9 1573.7h0M1068.9 1580.7V1697M1068.9 1700h0M1068.9 1704.8h0M1073.2 1546.3h0M1073.2 1580.8h0M1073.2 1582.3V1582.4M1073.2 1585V1696.1M1073.2 1700.7V1701.1M1073.2 1704.3h0M1073.2 1720h0M1073.2 1736.7h0M1077.6 1569.4h0M1077.6 1581.3h0M1077.6 1584h0M1077.6 1585.2h0M1077.6 1586.8V1697.5M1077.6 1699.9h0M1077.6 1702.1h0M1077.6 1703.8h0M1081.9 1566.4h0M1081.9 1585.8h0M1081.9 1589.7V1698.2M1081.9 1699.4h0M1081.9 1701h0M1086.3 1572.3h0M1086.3 1586h0M1086.3 1588.5h0M1086.3 1590.4h0M1086.3 1592.8V1699M1086.3 1700.1h0M1086.3 1702.5h0M1086.3 1705.9h0M1090.6 1562.5h0M1090.6 1597.7h0M1090.6 1603.7h0M1090.6 1611.8h0M1090.6 1620.3h0M1090.6 1634.3h0M1090.6 1639.7h0M1090.6 1650.8h0M1090.6 1660.8h0M1090.6 1664.9h0M1090.6 1671.9h0M1090.6 1687.3h0M1090.6 1693.4h0M1090.6 1700.6h0M1095 1552.7h0M1095 1581.1h0M1095 1597.3h0M1095 1607h0M1095 1613.8h0M1095 1621.2h0M1095 1629.4h0M1095 1638.9h0M1095 1648.3h0M1095 1657.5h0M1095 1665.2h0M1095 1670.9h0M1095 1681.9h0M1095 1691.8h0M1095 1698.1h0M1095 1729.4h0M1099.3 1559.6h0M1099.3 1579.7h0M1099.3 1595.3h0M1099.3 1610.7h0M1099.3 1621.7h0M1099.3 1627.6h0M1099.3 1637.1h0M1099.3 1646.6h0M1099.3 1659.8h0M1099.3 1674.2h0M1099.3 1680.4h0M1099.3 1694.7h0M1099.3 1702.2h0M1103.7 1580.1h0M1103.7 1595.2h0M1103.7 1610.5h0M1103.7 1627.5h0M1103.7 1631.5h0M1103.7 1640.6h0M1103.7 1655.4h0M1103.7 1670.6h0M1103.7 1674.4h0M1103.7 1687.2h0M1103.7 1697.6h0M1103.7 1749.4h0M1108.1 1599.5h0M1108.1 1607.9h0M1108.1 1625.2h0M1108.1 1634.9h0M1108.1 1645h0M1108.1 1661.4h0M1108.1 1670.5h0M1108.1 1681h0M1108.1 1694.7h0M1108.1 1701.5h0M1108.1 1721.6h0M1108.1 1734.7h0M1112.4 1562.5h0M1112.4 1570.4h0M1112.4 1575.2h0M1112.4 1588h0M1112.4 1609.1h0M1112.4 1621.6h0M1112.4 1625.5h0M1112.4 1650.1h0M1112.4 1657.1h0M1112.4 1675.2h0M1112.4 1693.6h0M1112.4 1706.9h0M1116.8 1556.7h0M1116.8 1606.9h0M1116.8 1611.4h0M1116.8 1615.9V1616.4M1116.8 1631.7h0M1116.8 1636.2h0M1116.8 1645.8h0M1116.8 1649.1h0M1116.8 1650.3h0M1116.8 1655.2h0M1116.8 1667.1h0M1116.8 1675h0M1116.8 1680.4h0M1116.8 1684.7h0M1116.8 1696.1h0M1116.8 1704.6h0M1116.8 1706.5h0M1121.1 1541h0M1121.1 1609.1h0M1121.1 1616.3h0M1121.1 1625h0M1121.1 1637.7h0M1121.1 1650.1h0M1121.1 1667h0M1121.1 1670.9h0M1121.1 1683.3h0M1121.1 1690h0M1121.1 1705.7h0M1121.1 1728.8h0M1125.5 1568h0M1125.5 1609.1h0M1125.5 1620.7h0M1125.5 1634.3h0M1125.5 1641.2h0M1125.5 1663.7h0M1125.5 1674.9h0M1125.5 1677.5h0M1125.5 1696.2h0M1125.5 1700.6h0M1129.8 1601.7h0M1129.8 1614.7h0M1129.8 1617.3h0M1129.8 1630h0M1129.8 1648.3h0M1129.8 1650.5h0M1129.8 1669h0M1129.8 1670.4h0M1129.8 1688.3h0M1129.8 1699.2h0M1129.8 1703.1h0M1129.8 1715.1h0M1134.2 1556.1h0M1134.2 1574.3h0M1134.2 1587h0M1134.2 1619.6h0M1134.2 1626h0M1134.2 1636.9h0M1134.2 1653.6h0M1134.2 1657.8h0M1134.2 1673.9h0M1134.2 1681.9h0M1134.2 1700.8h0M1134.2 1706.1h0M1134.2 1721h0M1134.2 1728.8h0M1138.5 1539.4h0M1138.5 1604.6h0M1138.5 1628.1h0M1138.5 1633.1h0M1138.5 1650.1h0M1138.5 1658.3h0M1138.5 1670.3h0M1138.5 1685.3h0M1138.5 1694.8h0M1138.5 1703.3h0M1142.9 1585.4h0M1142.9 1596.4h0M1142.9 1621.2h0M1142.9 1624.1h0M1142.9 1640.6h0M1142.9 1650.3h0M1142.9 1658.7h0M1142.9 1674h0M1142.9 1681.8h0M1142.9 1701h0M1142.9 1710.1h0M1142.9 1720h0M1142.9 1746.4h0M1142.9 1752.3h0M1147.2 1635.2h0M1147.2 1647.9h0M1147.2 1658.2h0M1147.2 1669.2h0M1147.2 1680h0M1147.2 1690.4h0M1147.2 1701.2h0M1147.2 1742.5h0M1147.2 1759.2h0M1151.6 1494.4h0M1151.6 1607.1h0M1151.6 1621.2h0M1151.6 1627.7h0M1151.6 1643.7h0M1151.6 1652.9h0M1151.6 1665.9h0M1151.6 1677.5h0M1151.6 1689.3h0M1151.6 1706.3h0M1151.6 1723h0M1151.6 1739.6h0M1155.9 1616.9h0M1155.9 1641.8h0M1155.9 1650.6h0M1155.9 1658.8h0M1155.9 1672.8h0M1155.9 1682.3h0M1155.9 1689.3h0M1155.9 1703h0M1160.3 1587h0M1160.3 1600.3h0M1160.3 1646.7h0M1160.3 1653.9h0M1160.3 1662.5h0M1160.3 1671h0M1160.3 1685.4h0M1160.3 1699.3h0M1160.3 1707.7h0M1164.6 1586.4h0M1164.6 1631.4h0M1164.6 1653.5V1653.6M1164.6 1668h0M1164.6 1676.2h0M1164.6 1684h0M1164.6 1697h0M1164.6 1703.8h0M1164.6 1719h0M1164.6 1726.9h0M1164.6 1738.6h0M1169 1574.3h0M1169 1659.2h0M1169 1677.1h0M1169 1688.2h0M1169 1693.2h0M1169 1705.4h0M1169 1744.5h0M1173.3 1604.6h0M1173.3 1637.9h0M1173.3 1663.3h0M1173.3 1665.1h0M1173.3 1684.3h0M1173.3 1690h0M1173.3 1706.1h0M1173.3 1723.9h0M1173.3 1742.5h0M1173.3 1756.2h0M1177.7 1611.4h0M1177.7 1668.2h0M1177.7 1671.3h0M1177.7 1688.9h0M1177.7 1698.6h0M1177.7 1703.9h0M1177.7 1732.7h0M1177.7 1750.4h0M1182 1639.8h0M1182 1650.6h0M1182 1656.4h0M1182 1683.6h0M1182 1696.5h0M1182 1708.6h0M1186.4 1592.3h0M1186.4 1651.5h0M1186.4 1684.2h0M1186.4 1690.3h0M1186.4 1700.4h0M1186.4 1725.9h0M1186.4 1742.5h0M1186.4 1764.1h0M1190.7 1668.2h0M1190.7 1676.4h0M1190.7 1694h0M1190.7 1696.1h0M1190.7 1723.5h0M1195.1 1663.3h0M1195.1 1687.4h0M1195.1 1695h0M1195.1 1710.6h0M1195.1 1723.9h0M1195.1 1738.6h0M1195.1 1750.4h0M1199.4 1645.7h0M1199.4 1689.7h0M1199.4 1700.5h0M1199.4 1744.5h0M1199.4 1754.3h0M1203.8 1683.8h0M1208.1 1694.6h0M1208.1 1709.3h0M1208.1 1718.1h0M1212.5 1704.4h0M1212.5 1724.9h0M1216.9 1759.2h0M1221.2 1738.6h0M1225.6 1682.3h0M1225.6 1716.7h0M1225.6 1733.7h0M1225.6 1742.5h0M1229.9 1701h0M1234.3 1627.1h0M1234.3 1713.2h0M1234.3 1747.4h0M1238.6 1707.3h0M1243 1710.2h0M1247.3 1714.2h0"/>
<path class="ho" d="M929.8 1537.1h0M1004.2 1549.8h0M1032.5 1550.8h0M1058.9 1578.2h0M1074.6 1601.7h0M991.4 1645.7h0M1025.7 1562.5h0M1075.6 1687.7h0M1095.1 1678.9h0M1106.9 1693.6h0M1036.4 1668.2h0M1091.2 1613.4h0M1003.2 1542h0M981.7 1551.8h0"/>
<path class="gr" d="M890.5 1453.2V1762.4M977.5 1453.2V1762.4M1064.5 1453.2V1762.4M1151.6 1453.2V1762.4M1238.6 1453.2V1762.4M878.1 1752.1H1269.8M878.1 1710.8H1269.8M878.1 1669.4H1269.8M878.1 1628.1H1269.8M878.1 1586.8H1269.8M878.1 1545.5H1269.8M878.1 1504.1H1269.8M878.1 1462.8H1269.8"/>
<rect class="bx" x="876.1" y="1451.2" width="394.7" height="312.2"/>
<path class="tk" d="M890.5 1763.4v9.6M977.5 1763.4v9.6M1064.5 1763.4v9.6M1151.6 1763.4v9.6M1238.6 1763.4v9.6M876.1 1752.1h-9.6M876.1 1710.8h-9.6M876.1 1669.4h-9.6M876.1 1628.1h-9.6M876.1 1586.8h-9.6M876.1 1545.5h-9.6M876.1 1504.1h-9.6M876.1 1462.8h-9.6"/>
<text x="890.5" y="1796.8">0</text>
<text x="977.5" y="1796.8">20</text>
<text x="1064.5" y="1796.8">40</text>
<text x="1151.6" y="1796.8">60</text>
<text x="1238.6" y="1796.8">80</text>
<text transform="translate(853.8 1752.1) rotate(-90)">−4</text>
<text transform="translate(853.8 1669.4) rotate(-90)">−2</text>
<text transform="translate(853.8 1586.8) rotate(-90)">0</text>
<text transform="translate(853.8 1504.1) rotate(-90)">2</text>
<text x="1076.2" y="1832.8">Changes sun/cloud</text>
<text transform="translate(817.1 1607.3) rotate(-90)">Differences in h</text>
<text class="ti" x="1073.5" y="1434.9">Schleswig</text>
<text class="co" x="1255.2" y="1481" xml:space="preserve">Cor =  −0.57</text>
</g>
</svg>
</body>
</html>
